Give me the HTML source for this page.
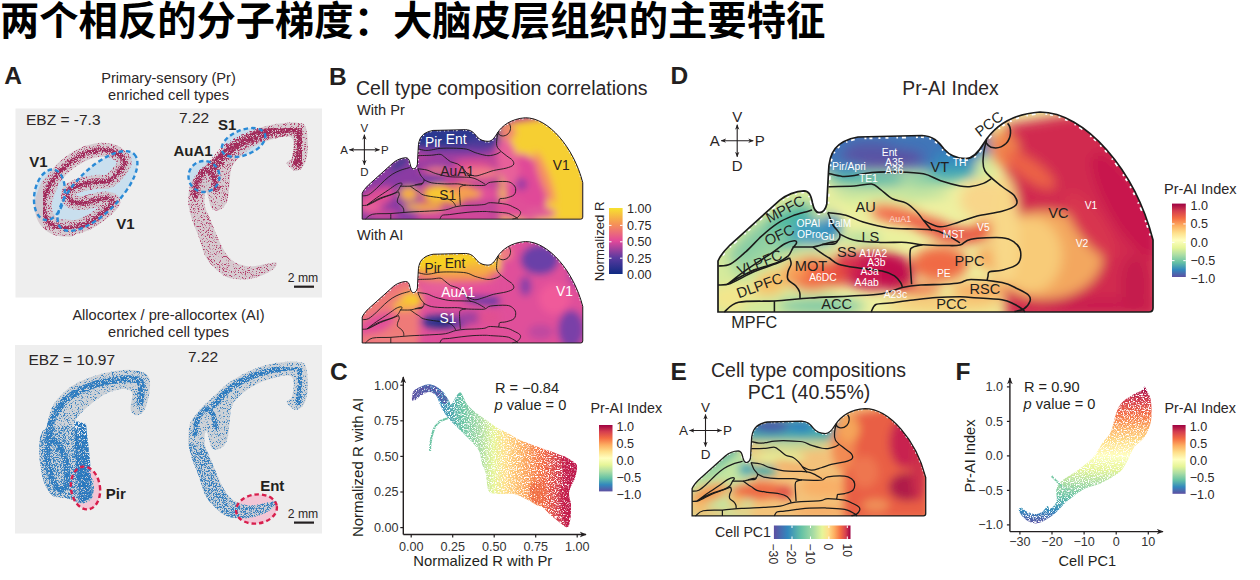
<!DOCTYPE html><html><head><meta charset="utf-8"><style>html,body{margin:0;padding:0;background:#fff;width:1260px;height:580px;overflow:hidden}svg{display:block}text{font-family:"Liberation Sans",Arial,sans-serif}</style></head><body>
<svg width="1260" height="580" viewBox="0 0 1260 580">
<defs>
<clipPath id="clip0"><path d="M718,312 L718,261 C720,256 724,251 730,245 L779.8,200.2 C786,195 796,191 804,190.8 C809,191 811,195 812.5,203 C814,210 816,212.6 819,212.6 C822.5,212.6 825.5,210 826.8,204 L828.5,172 C829,152 836,141 858,137 L922,135.5 C933,136 938,141 944,149 C950,156 958,158.5 966,158.5 C973,158.5 978,153 984,143 C994,127 1012,114 1040,112 C1085,112 1135,170 1153,240 L1153,308 Q1153,312 1149,312 Z"/></clipPath>
<clipPath id="clip1"><path d="M718,312 L718,261 C720,256 724,251 730,245 L779.8,200.2 C786,195 796,191 804,190.8 C809,191 811,195 812.5,203 C814,210 816,212.6 819,212.6 C822.5,212.6 825.5,210 826.8,204 L828.5,172 C829,152 836,141 858,137 L922,135.5 C933,136 938,141 944,149 C950,156 958,158.5 966,158.5 C973,158.5 978,153 984,143 C994,127 1012,114 1040,112 C1085,112 1135,170 1153,240 L1153,308 Q1153,312 1149,312 Z"/></clipPath>
<clipPath id="clip2"><path d="M718,312 L718,261 C720,256 724,251 730,245 L779.8,200.2 C786,195 796,191 804,190.8 C809,191 811,195 812.5,203 C814,210 816,212.6 819,212.6 C822.5,212.6 825.5,210 826.8,204 L828.5,172 C829,152 836,141 858,137 L922,135.5 C933,136 938,141 944,149 C950,156 958,158.5 966,158.5 C973,158.5 978,153 984,143 C994,127 1012,114 1040,112 C1085,112 1135,170 1153,240 L1153,308 Q1153,312 1149,312 Z"/></clipPath>
<clipPath id="clip3"><path d="M718,312 L718,261 C720,256 724,251 730,245 L779.8,200.2 C786,195 796,191 804,190.8 C809,191 811,195 812.5,203 C814,210 816,212.6 819,212.6 C822.5,212.6 825.5,210 826.8,204 L828.5,172 C829,152 836,141 858,137 L922,135.5 C933,136 938,141 944,149 C950,156 958,158.5 966,158.5 C973,158.5 978,153 984,143 C994,127 1012,114 1040,112 C1085,112 1135,170 1153,240 L1153,308 Q1153,312 1149,312 Z"/></clipPath>
<clipPath id="clipO"><path d="M718,312 L718,261 C720,256 724,251 730,245 L779.8,200.2 C786,195 796,191 804,190.8 C809,191 811,195 812.5,203 C814,210 816,212.6 819,212.6 C822.5,212.6 825.5,210 826.8,204 L828.5,172 C829,152 836,141 858,137 L922,135.5 C933,136 938,141 944,149 C950,156 958,158.5 966,158.5 C973,158.5 978,153 984,143 C994,127 1012,114 1040,112 C1085,112 1135,170 1153,240 L1153,308 Q1153,312 1149,312 Z"/></clipPath>
<clipPath id="topclip"><path d="M722,100 L1151,100 L1151,238 L1000,238 L1000,180 L830,180 L830,250 L722,290 Z"/></clipPath>
<filter id="blur0" x="-20%" y="-20%" width="140%" height="140%"><feGaussianBlur stdDeviation="6"/></filter>
<filter id="blur1" x="-20%" y="-20%" width="140%" height="140%"><feGaussianBlur stdDeviation="7"/></filter>
<filter id="blur2" x="-20%" y="-20%" width="140%" height="140%"><feGaussianBlur stdDeviation="7"/></filter>
<filter id="blur3" x="-20%" y="-20%" width="140%" height="140%"><feGaussianBlur stdDeviation="8"/></filter>
<linearGradient id="specV" x1="0" y1="0" x2="0" y2="1"><stop offset="0.000" stop-color="#9e0142"/><stop offset="0.100" stop-color="#d53e4f"/><stop offset="0.200" stop-color="#f46d43"/><stop offset="0.300" stop-color="#fdae61"/><stop offset="0.400" stop-color="#fee08b"/><stop offset="0.500" stop-color="#ffffbf"/><stop offset="0.600" stop-color="#e6f598"/><stop offset="0.700" stop-color="#abdda4"/><stop offset="0.800" stop-color="#66c2a5"/><stop offset="0.900" stop-color="#3288bd"/><stop offset="1.000" stop-color="#5e4fa2"/></linearGradient>
<linearGradient id="specH" x1="0" y1="0" x2="1" y2="0"><stop offset="0" stop-color="#5e4fa2"/><stop offset="0.18" stop-color="#3288bd"/><stop offset="0.36" stop-color="#66c2a5"/><stop offset="0.52" stop-color="#abdda4"/><stop offset="0.63" stop-color="#e6f598"/><stop offset="0.71" stop-color="#fee08b"/><stop offset="0.79" stop-color="#fdae61"/><stop offset="0.87" stop-color="#f46d43"/><stop offset="0.94" stop-color="#d53e4f"/><stop offset="1" stop-color="#9e0142"/></linearGradient>
<linearGradient id="plasma" x1="0" y1="1" x2="0" y2="0"><stop offset="0" stop-color="#0f2a82"/><stop offset="0.25" stop-color="#5b3aa0"/><stop offset="0.5" stop-color="#e2489a"/><stop offset="0.75" stop-color="#f59058"/><stop offset="1" stop-color="#f7e22e"/></linearGradient>
<marker id="arr" viewBox="0 0 10 10" refX="9" refY="5" markerWidth="5" markerHeight="5" orient="auto-start-reverse"><path d="M0,1 L10,5 L0,9 L3,5 Z" fill="#231f20"/></marker>
<linearGradient id="cgrad" gradientUnits="userSpaceOnUse" x1="412" y1="0" x2="575" y2="0"><stop offset="0" stop-color="#5e4fa2"/><stop offset="0.17" stop-color="#3288bd"/><stop offset="0.3" stop-color="#66c2a5"/><stop offset="0.42" stop-color="#abdda4"/><stop offset="0.5" stop-color="#e6f598"/><stop offset="0.57" stop-color="#fee08b"/><stop offset="0.68" stop-color="#fdae61"/><stop offset="0.8" stop-color="#f46d43"/><stop offset="0.9" stop-color="#d53e4f"/><stop offset="1" stop-color="#b0104a"/></linearGradient>
<linearGradient id="fgrad" gradientUnits="userSpaceOnUse" x1="0" y1="386.9" x2="0" y2="524.5"><stop offset="0" stop-color="#9e0142"/><stop offset="0.1" stop-color="#d53e4f"/><stop offset="0.2" stop-color="#f46d43"/><stop offset="0.3" stop-color="#fdae61"/><stop offset="0.4" stop-color="#fee08b"/><stop offset="0.5" stop-color="#ffffbf"/><stop offset="0.6" stop-color="#e6f598"/><stop offset="0.7" stop-color="#abdda4"/><stop offset="0.8" stop-color="#66c2a5"/><stop offset="0.9" stop-color="#3288bd"/><stop offset="1" stop-color="#5e4fa2"/></linearGradient>
<filter id="mesh2" x="-5%" y="-5%" width="110%" height="110%"><feTurbulence type="fractalNoise" baseFrequency="0.85" numOctaves="2" seed="21" result="n"/><feColorMatrix in="n" type="matrix" values="0 0 0 0 0  0 0 0 0 0  0 0 0 0 0  0 0 0 5 -1.9" result="m"/><feComposite in="SourceGraphic" in2="m" operator="in"/></filter>
<filter id="mesh" x="-5%" y="-5%" width="110%" height="110%"><feTurbulence type="fractalNoise" baseFrequency="0.85" numOctaves="2" seed="3" result="n"/><feColorMatrix in="n" type="matrix" values="0 0 0 0 0  0 0 0 0 0  0 0 0 0 0  0 0 0 5 -1.6" result="m"/><feComposite in="SourceGraphic" in2="m" operator="in"/></filter>
<filter id="spkL" x="0" y="0" width="100%" height="100%"><feTurbulence type="fractalNoise" baseFrequency="1.27" numOctaves="2" seed="7" result="n"/><feColorMatrix in="n" type="matrix" values="0 0 0 0 0  0 0 0 0 0  0 0 0 0 0  0 0 0 8 -4.5" result="m"/><feComposite in="SourceGraphic" in2="m" operator="in"/></filter>
<filter id="spkM" x="0" y="0" width="100%" height="100%"><feTurbulence type="fractalNoise" baseFrequency="1.27" numOctaves="2" seed="9" result="n"/><feColorMatrix in="n" type="matrix" values="0 0 0 0 0  0 0 0 0 0  0 0 0 0 0  0 0 0 8 -3.9" result="m"/><feComposite in="SourceGraphic" in2="m" operator="in"/></filter>
<filter id="spkH" x="0" y="0" width="100%" height="100%"><feTurbulence type="fractalNoise" baseFrequency="1.27" numOctaves="2" seed="13" result="n"/><feColorMatrix in="n" type="matrix" values="0 0 0 0 0  0 0 0 0 0  0 0 0 0 0  0 0 0 8 -3.0" result="m"/><feComposite in="SourceGraphic" in2="m" operator="in"/></filter>
<clipPath id="lowA"><path d="M0,432 L150,420 L150,580 L0,580 Z M170,440 L330,470 L330,580 L170,580 Z"/></clipPath>
</defs>
<text x="0" y="34.7" font-size="39.3" font-weight="bold" fill="#000" style="font-family:'Liberation Sans','Noto Sans CJK SC',sans-serif">两个相反的分子梯度：大脑皮层组织的主要特征</text>
<text x="4.3" y="84" font-size="24.5" font-weight="bold" fill="#231f20">A</text>
<text x="329" y="84.5" font-size="24.5" font-weight="bold" fill="#231f20">B</text>
<text x="330" y="379.5" font-size="24.5" font-weight="bold" fill="#231f20">C</text>
<text x="670.5" y="84.3" font-size="24.5" font-weight="bold" fill="#231f20">D</text>
<text x="670.5" y="379.5" font-size="24.5" font-weight="bold" fill="#231f20">E</text>
<text x="955.5" y="379.5" font-size="24.5" font-weight="bold" fill="#231f20">F</text>
<text x="168.5" y="83" font-size="14.6" text-anchor="middle" fill="#2b2626">Primary-sensory (Pr)</text>
<text x="168.5" y="100.3" font-size="14.6" text-anchor="middle" fill="#2b2626">enriched cell types</text>
<text x="168.5" y="319.6" font-size="14.6" text-anchor="middle" fill="#2b2626">Allocortex / pre-allocortex (AI)</text>
<text x="168.5" y="337" font-size="14.6" text-anchor="middle" fill="#2b2626">enriched cell types</text>
<rect x="15.5" y="108.5" width="306.5" height="189" fill="#eeeeee"/>
<rect x="15" y="345" width="307" height="188.5" fill="#eeeeee"/>
<text x="26" y="124.8" font-size="15.5" fill="#2b2626">EBZ = -7.3</text>
<text x="179" y="122.7" font-size="15.5" fill="#2b2626">7.22</text>
<text x="28.5" y="364.7" font-size="15.5" fill="#2b2626">EBZ = 10.97</text>
<text x="188" y="362" font-size="15.5" fill="#2b2626">7.22</text>
<g fill="#c9dfee"><ellipse cx="49.4" cy="194.8" rx="15" ry="25.5" transform="rotate(10 49.4 194.8)"/><ellipse cx="97.5" cy="191" rx="52" ry="22" transform="rotate(-45 97.5 191)"/><ellipse cx="243.5" cy="142.5" rx="23" ry="12.5" transform="rotate(-22 243.5 142.5)"/><ellipse cx="204" cy="176.5" rx="15.5" ry="15.5"/></g><g opacity="0.85"><path d="M113.2,202.1 C112.3,204.7 105.6,210.6 101.4,214.0 C97.1,217.5 92.2,220.6 87.5,222.9 C82.8,225.2 77.7,226.9 73.2,227.7 C68.7,228.5 64.1,228.6 60.3,227.8 C56.5,227.1 53.0,225.5 50.3,223.3 C47.7,221.1 45.6,218.0 44.5,214.6 C43.3,211.2 43.0,207.0 43.5,202.8 C43.9,198.6 45.3,193.8 47.4,189.4 C49.4,184.9 52.4,180.1 55.8,175.9 C59.2,171.6 63.4,167.4 67.6,164.0 C71.9,160.5 76.8,157.4 81.5,155.1 C86.2,152.8 91.3,151.1 95.8,150.3 C100.3,149.5 104.9,149.4 108.7,150.2 C112.5,150.9 116.0,152.5 118.7,154.7 C121.3,156.9 126.0,159.1 124.5,163.4 C123.1,167.7 114.8,177.4 110.0,180.5 C105.2,183.6 101.3,181.2 96.0,182.0 C90.7,182.8 82.9,183.8 78.3,185.5 C73.7,187.2 69.9,189.5 68.5,192.0 C67.1,194.5 67.8,198.7 70.0,200.5 C72.2,202.3 76.9,203.2 81.7,203.0 C86.5,202.8 94.8,200.2 99.0,199.5 C103.2,198.8 104.6,198.1 107.0,198.5 C109.4,198.9 114.2,199.5 113.2,202.1Z" fill="none" stroke="#d2c6cb" stroke-width="14" stroke-linecap="round" stroke-linejoin="round"/><path d="M69.8,228.2 C67.7,228.0 61.1,228.2 57.5,227.1 C53.9,226.0 50.7,224.0 48.5,221.5 C46.2,218.9 44.5,215.5 43.8,211.9 C43.0,208.2 43.1,203.9 44.0,199.5 C44.9,195.2 48.2,188.2 49.1,185.9" fill="none" stroke="#d2c6cb" stroke-width="17" stroke-linecap="round" stroke-linejoin="round"/><path d="M210.9,159.8 C213.8,157.0 213.2,157.6 216.0,155.0 C218.8,152.4 223.1,147.8 228.0,144.3 C232.9,140.8 239.5,136.9 245.3,134.0 C251.1,131.1 256.9,128.8 262.6,127.1 C268.4,125.4 274.1,124.3 279.8,123.6 C285.6,122.9 292.8,122.2 297.1,122.8 C301.4,123.4 303.9,122.6 305.7,127.1 C307.5,131.5 308.1,143.2 307.8,149.5 C307.5,155.8 306.1,161.4 304.0,165.0 C301.9,168.6 298.2,171.3 295.3,171.0 C292.4,170.7 287.3,165.5 286.7,163.3 C286.1,161.2 290.8,161.6 291.9,158.1 C293.0,154.6 294.2,146.2 293.6,142.6 C293.0,139.0 292.1,137.0 288.4,136.5 C284.7,136.0 276.9,137.8 271.2,139.5 C265.5,141.2 259.2,143.7 254.0,146.5 C248.8,149.3 243.9,152.8 240.2,156.4 C236.4,160.0 233.3,163.2 231.5,168.0 C229.7,172.8 230.3,179.3 229.5,185.0 C228.7,190.7 228.4,198.2 226.6,202.4 C224.8,206.6 221.3,209.3 218.8,210.2 C216.3,211.1 213.3,210.4 211.5,208.0 C209.7,205.6 209.0,198.7 208.0,196.0 C207.0,193.3 206.0,190.4 205.5,192.0 C205.0,193.6 203.9,200.7 204.8,205.5 C205.7,210.3 208.9,215.8 211.0,221.0 C213.1,226.2 215.0,231.4 217.3,236.6 C219.6,241.8 222.2,247.9 225.0,252.1 C227.8,256.3 230.2,259.6 234.3,262.0 C238.5,264.4 244.7,266.2 249.9,266.5 C255.1,266.8 261.0,264.7 265.4,264.0 C269.8,263.3 275.0,261.6 276.3,262.5 C277.6,263.4 276.3,266.8 273.2,269.2 C270.1,271.6 262.8,275.3 257.6,277.0 C252.4,278.7 247.3,279.3 242.1,279.3 C236.9,279.3 231.2,278.9 226.6,277.0 C221.9,275.1 217.8,271.2 214.2,267.6 C210.6,264.0 207.4,260.4 204.8,255.2 C202.2,250.0 200.7,242.3 198.6,236.6 C196.5,230.9 194.1,226.2 192.4,221.0 C190.7,215.8 189.2,209.4 188.5,205.5 C187.8,201.6 188.1,201.4 188.4,197.8 C188.7,194.2 188.5,188.3 190.2,184.0 C191.9,179.7 195.4,175.9 198.8,171.9 C202.2,167.9 208.0,162.6 210.9,159.8Z" fill="#d2c6cb"/></g><g filter="url(#spkL)"><path d="M210.9,159.8 C213.8,157.0 213.2,157.6 216.0,155.0 C218.8,152.4 223.1,147.8 228.0,144.3 C232.9,140.8 239.5,136.9 245.3,134.0 C251.1,131.1 256.9,128.8 262.6,127.1 C268.4,125.4 274.1,124.3 279.8,123.6 C285.6,122.9 292.8,122.2 297.1,122.8 C301.4,123.4 303.9,122.6 305.7,127.1 C307.5,131.5 308.1,143.2 307.8,149.5 C307.5,155.8 306.1,161.4 304.0,165.0 C301.9,168.6 298.2,171.3 295.3,171.0 C292.4,170.7 287.3,165.5 286.7,163.3 C286.1,161.2 290.8,161.6 291.9,158.1 C293.0,154.6 294.2,146.2 293.6,142.6 C293.0,139.0 292.1,137.0 288.4,136.5 C284.7,136.0 276.9,137.8 271.2,139.5 C265.5,141.2 259.2,143.7 254.0,146.5 C248.8,149.3 243.9,152.8 240.2,156.4 C236.4,160.0 233.3,163.2 231.5,168.0 C229.7,172.8 230.3,179.3 229.5,185.0 C228.7,190.7 228.4,198.2 226.6,202.4 C224.8,206.6 221.3,209.3 218.8,210.2 C216.3,211.1 213.3,210.4 211.5,208.0 C209.7,205.6 209.0,198.7 208.0,196.0 C207.0,193.3 206.0,190.4 205.5,192.0 C205.0,193.6 203.9,200.7 204.8,205.5 C205.7,210.3 208.9,215.8 211.0,221.0 C213.1,226.2 215.0,231.4 217.3,236.6 C219.6,241.8 222.2,247.9 225.0,252.1 C227.8,256.3 230.2,259.6 234.3,262.0 C238.5,264.4 244.7,266.2 249.9,266.5 C255.1,266.8 261.0,264.7 265.4,264.0 C269.8,263.3 275.0,261.6 276.3,262.5 C277.6,263.4 276.3,266.8 273.2,269.2 C270.1,271.6 262.8,275.3 257.6,277.0 C252.4,278.7 247.3,279.3 242.1,279.3 C236.9,279.3 231.2,278.9 226.6,277.0 C221.9,275.1 217.8,271.2 214.2,267.6 C210.6,264.0 207.4,260.4 204.8,255.2 C202.2,250.0 200.7,242.3 198.6,236.6 C196.5,230.9 194.1,226.2 192.4,221.0 C190.7,215.8 189.2,209.4 188.5,205.5 C187.8,201.6 188.1,201.4 188.4,197.8 C188.7,194.2 188.5,188.3 190.2,184.0 C191.9,179.7 195.4,175.9 198.8,171.9 C202.2,167.9 208.0,162.6 210.9,159.8Z" fill="#b23a68"/><path d="M113.2,202.1 C112.3,204.7 105.6,210.6 101.4,214.0 C97.1,217.5 92.2,220.6 87.5,222.9 C82.8,225.2 77.7,226.9 73.2,227.7 C68.7,228.5 64.1,228.6 60.3,227.8 C56.5,227.1 53.0,225.5 50.3,223.3 C47.7,221.1 45.6,218.0 44.5,214.6 C43.3,211.2 43.0,207.0 43.5,202.8 C43.9,198.6 45.3,193.8 47.4,189.4 C49.4,184.9 52.4,180.1 55.8,175.9 C59.2,171.6 63.4,167.4 67.6,164.0 C71.9,160.5 76.8,157.4 81.5,155.1 C86.2,152.8 91.3,151.1 95.8,150.3 C100.3,149.5 104.9,149.4 108.7,150.2 C112.5,150.9 116.0,152.5 118.7,154.7 C121.3,156.9 126.0,159.1 124.5,163.4 C123.1,167.7 114.8,177.4 110.0,180.5 C105.2,183.6 101.3,181.2 96.0,182.0 C90.7,182.8 82.9,183.8 78.3,185.5 C73.7,187.2 69.9,189.5 68.5,192.0 C67.1,194.5 67.8,198.7 70.0,200.5 C72.2,202.3 76.9,203.2 81.7,203.0 C86.5,202.8 94.8,200.2 99.0,199.5 C103.2,198.8 104.6,198.1 107.0,198.5 C109.4,198.9 114.2,199.5 113.2,202.1Z" fill="none" stroke="#b23a68" stroke-width="14" stroke-linecap="round" stroke-linejoin="round"/><path d="M69.8,228.2 C67.7,228.0 61.1,228.2 57.5,227.1 C53.9,226.0 50.7,224.0 48.5,221.5 C46.2,218.9 44.5,215.5 43.8,211.9 C43.0,208.2 43.1,203.9 44.0,199.5 C44.9,195.2 48.2,188.2 49.1,185.9" fill="none" stroke="#b23a68" stroke-width="17" stroke-linecap="round" stroke-linejoin="round"/></g><g filter="url(#spkM)"><path d="M113.2,202.1 C112.3,204.7 105.6,210.6 101.4,214.0 C97.1,217.5 92.2,220.6 87.5,222.9 C82.8,225.2 77.7,226.9 73.2,227.7 C68.7,228.5 64.1,228.6 60.3,227.8 C56.5,227.1 53.0,225.5 50.3,223.3 C47.7,221.1 45.6,218.0 44.5,214.6 C43.3,211.2 43.0,207.0 43.5,202.8 C43.9,198.6 45.3,193.8 47.4,189.4 C49.4,184.9 52.4,180.1 55.8,175.9 C59.2,171.6 63.4,167.4 67.6,164.0 C71.9,160.5 76.8,157.4 81.5,155.1 C86.2,152.8 91.3,151.1 95.8,150.3 C100.3,149.5 104.9,149.4 108.7,150.2 C112.5,150.9 116.0,152.5 118.7,154.7 C121.3,156.9 126.0,159.1 124.5,163.4 C123.1,167.7 114.8,177.4 110.0,180.5 C105.2,183.6 101.3,181.2 96.0,182.0 C90.7,182.8 82.9,183.8 78.3,185.5 C73.7,187.2 69.9,189.5 68.5,192.0 C67.1,194.5 67.8,198.7 70.0,200.5 C72.2,202.3 76.9,203.2 81.7,203.0 C86.5,202.8 94.8,200.2 99.0,199.5 C103.2,198.8 104.6,198.1 107.0,198.5 C109.4,198.9 114.2,199.5 113.2,202.1Z" fill="none" stroke="#a52d5e" stroke-width="7" stroke-linecap="round" stroke-linejoin="round"/><path d="M214.0,166.0 C216.3,163.5 222.7,155.3 228.0,151.0 C233.3,146.7 240.0,143.0 246.0,140.0 C252.0,137.0 258.0,134.8 264.0,133.0 C270.0,131.2 276.3,130.1 282.0,129.5 C287.7,128.9 294.8,126.9 298.0,129.5 C301.2,132.1 301.0,139.4 301.0,145.0 C301.0,150.6 298.5,160.0 298.0,163.0" fill="none" stroke="#a8305f" stroke-width="14" stroke-linecap="round" stroke-linejoin="round"/><path d="M195.0,195.0 C195.5,192.5 196.2,184.2 198.0,180.0 C199.8,175.8 203.5,170.7 206.0,170.0 C208.5,169.3 211.3,173.0 213.0,176.0 C214.7,179.0 215.5,186.0 216.0,188.0" fill="none" stroke="#a8305f" stroke-width="9" stroke-linecap="round" stroke-linejoin="round"/></g><g filter="url(#spkH)"><path d="M113.2,202.1 C112.3,204.7 105.6,210.6 101.4,214.0 C97.1,217.5 92.2,220.6 87.5,222.9 C82.8,225.2 77.7,226.9 73.2,227.7 C68.7,228.5 64.1,228.6 60.3,227.8 C56.5,227.1 53.0,225.5 50.3,223.3 C47.7,221.1 45.6,218.0 44.5,214.6 C43.3,211.2 43.0,207.0 43.5,202.8 C43.9,198.6 45.3,193.8 47.4,189.4 C49.4,184.9 52.4,180.1 55.8,175.9 C59.2,171.6 63.4,167.4 67.6,164.0 C71.9,160.5 76.8,157.4 81.5,155.1 C86.2,152.8 91.3,151.1 95.8,150.3 C100.3,149.5 104.9,149.4 108.7,150.2 C112.5,150.9 116.0,152.5 118.7,154.7 C121.3,156.9 126.0,159.1 124.5,163.4 C123.1,167.7 114.8,177.4 110.0,180.5 C105.2,183.6 101.3,181.2 96.0,182.0 C90.7,182.8 82.9,183.8 78.3,185.5 C73.7,187.2 69.9,189.5 68.5,192.0 C67.1,194.5 67.8,198.7 70.0,200.5 C72.2,202.3 76.9,203.2 81.7,203.0 C86.5,202.8 94.8,200.2 99.0,199.5 C103.2,198.8 104.6,198.1 107.0,198.5 C109.4,198.9 114.2,199.5 113.2,202.1Z" fill="none" stroke="#a02a5a" stroke-width="3.5" stroke-linecap="round" stroke-linejoin="round"/><path d="M214.0,166.0 C216.3,163.5 222.7,155.3 228.0,151.0 C233.3,146.7 240.0,143.0 246.0,140.0 C252.0,137.0 258.0,134.8 264.0,133.0 C270.0,131.2 276.3,130.1 282.0,129.5 C287.7,128.9 294.8,126.9 298.0,129.5 C301.2,132.1 301.0,139.4 301.0,145.0 C301.0,150.6 298.5,160.0 298.0,163.0" fill="none" stroke="#a02a5a" stroke-width="8" stroke-linecap="round" stroke-linejoin="round"/><path d="M195.0,195.0 C195.5,192.5 196.2,184.2 198.0,180.0 C199.8,175.8 203.5,170.7 206.0,170.0 C208.5,169.3 211.3,173.0 213.0,176.0 C214.7,179.0 215.5,186.0 216.0,188.0" fill="none" stroke="#a02a5a" stroke-width="5" stroke-linecap="round" stroke-linejoin="round"/></g><g fill="none" stroke="#2a8ad6" stroke-width="2.4" stroke-dasharray="4.5 3"><ellipse cx="49.4" cy="194.8" rx="15" ry="25.5" transform="rotate(10 49.4 194.8)"/><ellipse cx="97.5" cy="191" rx="52" ry="22" transform="rotate(-45 97.5 191)"/><ellipse cx="243.5" cy="142.5" rx="23" ry="12.5" transform="rotate(-22 243.5 142.5)"/><ellipse cx="204" cy="176.5" rx="15.5" ry="15.5"/></g>
<g fill="#f3c6d6"><ellipse cx="85.5" cy="488" rx="14.5" ry="21.5" transform="rotate(-8 85.5 488)"/><ellipse cx="256.5" cy="509" rx="20.5" ry="14.5" transform="rotate(-8 256.5 509)"/></g><g opacity="0.85"><path d="M46.6,426.2 C48.2,422.0 48.9,412.9 52.1,406.9 C55.3,400.9 60.4,395.0 65.9,390.4 C71.4,385.8 78.3,382.3 85.2,379.3 C92.1,376.3 99.9,374.0 107.3,372.4 C114.7,370.8 123.0,369.5 129.4,369.7 C135.8,369.9 142.5,371.3 145.9,373.8 C149.3,376.3 150.1,379.3 150.1,384.8 C150.1,390.3 148.0,401.8 145.9,406.9 C143.8,412.0 140.1,414.7 137.6,415.2 C135.1,415.7 131.6,413.4 130.7,409.7 C129.8,406.0 133.2,396.6 132.1,393.1 C130.9,389.7 127.9,389.0 123.8,389.0 C119.7,389.0 112.8,390.6 107.3,393.1 C101.8,395.6 95.8,400.1 90.7,404.2 C85.6,408.3 79.7,413.9 76.9,418.0 C74.2,422.1 72.8,424.9 74.2,429.0 C75.6,433.1 82.9,437.7 85.2,442.8 C87.5,447.9 87.8,454.8 88.0,459.4 C88.2,464.0 85.6,466.7 86.5,470.4 C87.4,474.1 92.6,476.8 93.5,481.4 C94.4,486.0 93.9,494.3 92.1,498.0 C90.2,501.7 85.9,503.3 82.4,503.5 C79.0,503.7 74.6,500.3 71.4,499.4 C68.2,498.5 66.3,498.7 63.1,498.0 C59.9,497.3 55.3,498.0 52.1,495.2 C48.9,492.4 45.9,487.4 43.8,481.4 C41.7,475.4 40.4,466.3 39.7,459.4 C39.0,452.5 39.2,444.6 39.7,440.0 C40.2,435.4 41.2,434.1 42.4,431.8 C43.5,429.5 45.0,430.4 46.6,426.2Z" fill="#c9ced4"/><path d="M210.9,398.8 C213.8,396.0 213.2,396.6 216.0,394.0 C218.8,391.4 223.1,386.8 228.0,383.3 C232.9,379.8 239.5,375.9 245.3,373.0 C251.1,370.1 256.9,367.8 262.6,366.1 C268.4,364.4 274.1,363.3 279.8,362.6 C285.6,361.9 292.8,361.2 297.1,361.8 C301.4,362.4 303.9,361.7 305.7,366.1 C307.5,370.6 308.1,382.2 307.8,388.5 C307.5,394.8 306.1,400.4 304.0,404.0 C301.9,407.6 298.2,410.3 295.3,410.0 C292.4,409.7 287.3,404.4 286.7,402.3 C286.1,400.2 290.8,400.6 291.9,397.1 C293.0,393.7 294.2,385.2 293.6,381.6 C293.0,378.0 292.1,376.0 288.4,375.5 C284.7,375.0 276.9,376.8 271.2,378.5 C265.5,380.2 259.2,382.7 254.0,385.5 C248.8,388.3 243.9,391.8 240.2,395.4 C236.4,399.0 233.3,402.2 231.5,407.0 C229.7,411.8 230.3,418.3 229.5,424.0 C228.7,429.7 228.4,437.2 226.6,441.4 C224.8,445.6 221.3,448.3 218.8,449.2 C216.3,450.1 213.3,449.4 211.5,447.0 C209.7,444.6 209.0,437.7 208.0,435.0 C207.0,432.3 206.0,429.4 205.5,431.0 C205.0,432.6 203.9,439.7 204.8,444.5 C205.7,449.3 208.9,454.8 211.0,460.0 C213.1,465.2 215.0,470.4 217.3,475.6 C219.6,480.8 222.2,486.9 225.0,491.1 C227.8,495.3 230.2,498.6 234.3,501.0 C238.5,503.4 244.7,505.2 249.9,505.5 C255.1,505.8 261.0,503.7 265.4,503.0 C269.8,502.3 275.0,500.6 276.3,501.5 C277.6,502.4 276.3,505.8 273.2,508.2 C270.1,510.6 262.8,514.3 257.6,516.0 C252.4,517.7 247.3,518.3 242.1,518.3 C236.9,518.3 231.2,518.0 226.6,516.0 C221.9,514.0 217.8,510.2 214.2,506.6 C210.6,503.0 207.4,499.4 204.8,494.2 C202.2,489.0 200.7,481.3 198.6,475.6 C196.5,469.9 194.1,465.2 192.4,460.0 C190.7,454.8 189.2,448.4 188.5,444.5 C187.8,440.6 188.1,440.4 188.4,436.8 C188.7,433.2 188.5,427.3 190.2,423.0 C191.9,418.7 195.4,414.9 198.8,410.9 C202.2,406.9 208.0,401.6 210.9,398.8Z" fill="#c9ced4"/></g><g filter="url(#spkL)"><path d="M46.6,426.2 C48.2,422.0 48.9,412.9 52.1,406.9 C55.3,400.9 60.4,395.0 65.9,390.4 C71.4,385.8 78.3,382.3 85.2,379.3 C92.1,376.3 99.9,374.0 107.3,372.4 C114.7,370.8 123.0,369.5 129.4,369.7 C135.8,369.9 142.5,371.3 145.9,373.8 C149.3,376.3 150.1,379.3 150.1,384.8 C150.1,390.3 148.0,401.8 145.9,406.9 C143.8,412.0 140.1,414.7 137.6,415.2 C135.1,415.7 131.6,413.4 130.7,409.7 C129.8,406.0 133.2,396.6 132.1,393.1 C130.9,389.7 127.9,389.0 123.8,389.0 C119.7,389.0 112.8,390.6 107.3,393.1 C101.8,395.6 95.8,400.1 90.7,404.2 C85.6,408.3 79.7,413.9 76.9,418.0 C74.2,422.1 72.8,424.9 74.2,429.0 C75.6,433.1 82.9,437.7 85.2,442.8 C87.5,447.9 87.8,454.8 88.0,459.4 C88.2,464.0 85.6,466.7 86.5,470.4 C87.4,474.1 92.6,476.8 93.5,481.4 C94.4,486.0 93.9,494.3 92.1,498.0 C90.2,501.7 85.9,503.3 82.4,503.5 C79.0,503.7 74.6,500.3 71.4,499.4 C68.2,498.5 66.3,498.7 63.1,498.0 C59.9,497.3 55.3,498.0 52.1,495.2 C48.9,492.4 45.9,487.4 43.8,481.4 C41.7,475.4 40.4,466.3 39.7,459.4 C39.0,452.5 39.2,444.6 39.7,440.0 C40.2,435.4 41.2,434.1 42.4,431.8 C43.5,429.5 45.0,430.4 46.6,426.2Z" fill="#3a82c0"/><path d="M210.9,398.8 C213.8,396.0 213.2,396.6 216.0,394.0 C218.8,391.4 223.1,386.8 228.0,383.3 C232.9,379.8 239.5,375.9 245.3,373.0 C251.1,370.1 256.9,367.8 262.6,366.1 C268.4,364.4 274.1,363.3 279.8,362.6 C285.6,361.9 292.8,361.2 297.1,361.8 C301.4,362.4 303.9,361.7 305.7,366.1 C307.5,370.6 308.1,382.2 307.8,388.5 C307.5,394.8 306.1,400.4 304.0,404.0 C301.9,407.6 298.2,410.3 295.3,410.0 C292.4,409.7 287.3,404.4 286.7,402.3 C286.1,400.2 290.8,400.6 291.9,397.1 C293.0,393.7 294.2,385.2 293.6,381.6 C293.0,378.0 292.1,376.0 288.4,375.5 C284.7,375.0 276.9,376.8 271.2,378.5 C265.5,380.2 259.2,382.7 254.0,385.5 C248.8,388.3 243.9,391.8 240.2,395.4 C236.4,399.0 233.3,402.2 231.5,407.0 C229.7,411.8 230.3,418.3 229.5,424.0 C228.7,429.7 228.4,437.2 226.6,441.4 C224.8,445.6 221.3,448.3 218.8,449.2 C216.3,450.1 213.3,449.4 211.5,447.0 C209.7,444.6 209.0,437.7 208.0,435.0 C207.0,432.3 206.0,429.4 205.5,431.0 C205.0,432.6 203.9,439.7 204.8,444.5 C205.7,449.3 208.9,454.8 211.0,460.0 C213.1,465.2 215.0,470.4 217.3,475.6 C219.6,480.8 222.2,486.9 225.0,491.1 C227.8,495.3 230.2,498.6 234.3,501.0 C238.5,503.4 244.7,505.2 249.9,505.5 C255.1,505.8 261.0,503.7 265.4,503.0 C269.8,502.3 275.0,500.6 276.3,501.5 C277.6,502.4 276.3,505.8 273.2,508.2 C270.1,510.6 262.8,514.3 257.6,516.0 C252.4,517.7 247.3,518.3 242.1,518.3 C236.9,518.3 231.2,518.0 226.6,516.0 C221.9,514.0 217.8,510.2 214.2,506.6 C210.6,503.0 207.4,499.4 204.8,494.2 C202.2,489.0 200.7,481.3 198.6,475.6 C196.5,469.9 194.1,465.2 192.4,460.0 C190.7,454.8 189.2,448.4 188.5,444.5 C187.8,440.6 188.1,440.4 188.4,436.8 C188.7,433.2 188.5,427.3 190.2,423.0 C191.9,418.7 195.4,414.9 198.8,410.9 C202.2,406.9 208.0,401.6 210.9,398.8Z" fill="#3a82c0"/></g><g clip-path="url(#lowA)"><g filter="url(#spkM)"><path d="M46.6,426.2 C48.2,422.0 48.9,412.9 52.1,406.9 C55.3,400.9 60.4,395.0 65.9,390.4 C71.4,385.8 78.3,382.3 85.2,379.3 C92.1,376.3 99.9,374.0 107.3,372.4 C114.7,370.8 123.0,369.5 129.4,369.7 C135.8,369.9 142.5,371.3 145.9,373.8 C149.3,376.3 150.1,379.3 150.1,384.8 C150.1,390.3 148.0,401.8 145.9,406.9 C143.8,412.0 140.1,414.7 137.6,415.2 C135.1,415.7 131.6,413.4 130.7,409.7 C129.8,406.0 133.2,396.6 132.1,393.1 C130.9,389.7 127.9,389.0 123.8,389.0 C119.7,389.0 112.8,390.6 107.3,393.1 C101.8,395.6 95.8,400.1 90.7,404.2 C85.6,408.3 79.7,413.9 76.9,418.0 C74.2,422.1 72.8,424.9 74.2,429.0 C75.6,433.1 82.9,437.7 85.2,442.8 C87.5,447.9 87.8,454.8 88.0,459.4 C88.2,464.0 85.6,466.7 86.5,470.4 C87.4,474.1 92.6,476.8 93.5,481.4 C94.4,486.0 93.9,494.3 92.1,498.0 C90.2,501.7 85.9,503.3 82.4,503.5 C79.0,503.7 74.6,500.3 71.4,499.4 C68.2,498.5 66.3,498.7 63.1,498.0 C59.9,497.3 55.3,498.0 52.1,495.2 C48.9,492.4 45.9,487.4 43.8,481.4 C41.7,475.4 40.4,466.3 39.7,459.4 C39.0,452.5 39.2,444.6 39.7,440.0 C40.2,435.4 41.2,434.1 42.4,431.8 C43.5,429.5 45.0,430.4 46.6,426.2Z" fill="#3580c0"/><path d="M210.9,398.8 C213.8,396.0 213.2,396.6 216.0,394.0 C218.8,391.4 223.1,386.8 228.0,383.3 C232.9,379.8 239.5,375.9 245.3,373.0 C251.1,370.1 256.9,367.8 262.6,366.1 C268.4,364.4 274.1,363.3 279.8,362.6 C285.6,361.9 292.8,361.2 297.1,361.8 C301.4,362.4 303.9,361.7 305.7,366.1 C307.5,370.6 308.1,382.2 307.8,388.5 C307.5,394.8 306.1,400.4 304.0,404.0 C301.9,407.6 298.2,410.3 295.3,410.0 C292.4,409.7 287.3,404.4 286.7,402.3 C286.1,400.2 290.8,400.6 291.9,397.1 C293.0,393.7 294.2,385.2 293.6,381.6 C293.0,378.0 292.1,376.0 288.4,375.5 C284.7,375.0 276.9,376.8 271.2,378.5 C265.5,380.2 259.2,382.7 254.0,385.5 C248.8,388.3 243.9,391.8 240.2,395.4 C236.4,399.0 233.3,402.2 231.5,407.0 C229.7,411.8 230.3,418.3 229.5,424.0 C228.7,429.7 228.4,437.2 226.6,441.4 C224.8,445.6 221.3,448.3 218.8,449.2 C216.3,450.1 213.3,449.4 211.5,447.0 C209.7,444.6 209.0,437.7 208.0,435.0 C207.0,432.3 206.0,429.4 205.5,431.0 C205.0,432.6 203.9,439.7 204.8,444.5 C205.7,449.3 208.9,454.8 211.0,460.0 C213.1,465.2 215.0,470.4 217.3,475.6 C219.6,480.8 222.2,486.9 225.0,491.1 C227.8,495.3 230.2,498.6 234.3,501.0 C238.5,503.4 244.7,505.2 249.9,505.5 C255.1,505.8 261.0,503.7 265.4,503.0 C269.8,502.3 275.0,500.6 276.3,501.5 C277.6,502.4 276.3,505.8 273.2,508.2 C270.1,510.6 262.8,514.3 257.6,516.0 C252.4,517.7 247.3,518.3 242.1,518.3 C236.9,518.3 231.2,518.0 226.6,516.0 C221.9,514.0 217.8,510.2 214.2,506.6 C210.6,503.0 207.4,499.4 204.8,494.2 C202.2,489.0 200.7,481.3 198.6,475.6 C196.5,469.9 194.1,465.2 192.4,460.0 C190.7,454.8 189.2,448.4 188.5,444.5 C187.8,440.6 188.1,440.4 188.4,436.8 C188.7,433.2 188.5,427.3 190.2,423.0 C191.9,418.7 195.4,414.9 198.8,410.9 C202.2,406.9 208.0,401.6 210.9,398.8Z" fill="#3580c0"/></g></g><g filter="url(#spkH)"><path d="M48.0,440.0 C48.8,436.3 49.7,425.0 53.0,418.0 C56.3,411.0 61.8,403.3 68.0,398.0 C74.2,392.7 82.7,388.9 90.0,386.0 C97.3,383.1 105.0,381.7 112.0,380.5 C119.0,379.3 127.2,378.4 132.0,379.0 C136.8,379.6 139.7,380.2 141.0,384.0 C142.3,387.8 140.2,399.0 140.0,402.0" fill="none" stroke="#2f7cc0" stroke-width="7" stroke-linecap="round" stroke-linejoin="round"/><path d="M214.0,405.0 C216.3,402.5 222.7,394.3 228.0,390.0 C233.3,385.7 240.0,382.0 246.0,379.0 C252.0,376.0 258.0,373.8 264.0,372.0 C270.0,370.2 276.3,369.1 282.0,368.5 C287.7,367.9 294.8,365.9 298.0,368.5 C301.2,371.1 301.0,378.4 301.0,384.0 C301.0,389.6 298.5,399.0 298.0,402.0" fill="none" stroke="#2f7cc0" stroke-width="6" stroke-linecap="round" stroke-linejoin="round"/><path d="M195.0,434.0 C195.5,431.5 196.2,423.2 198.0,419.0 C199.8,414.8 203.5,409.7 206.0,409.0 C208.5,408.3 211.3,412.0 213.0,415.0 C214.7,418.0 215.5,425.0 216.0,427.0" fill="none" stroke="#2f7cc0" stroke-width="5" stroke-linecap="round" stroke-linejoin="round"/><path d="M74,420 L86,424 L90,460 L92,498 L80,503 L76,470 Z" fill="#2a78be"/><ellipse cx="57" cy="465" rx="9" ry="25" transform="rotate(-12 57 465)" fill="none" stroke="#2f7cc0" stroke-width="6"/></g><g fill="none" stroke="#d81e4c" stroke-width="2.4" stroke-dasharray="4.5 3"><ellipse cx="85.5" cy="488" rx="14.5" ry="21.5" transform="rotate(-8 85.5 488)"/><ellipse cx="256.5" cy="509" rx="20.5" ry="14.5" transform="rotate(-8 256.5 509)"/></g>
<text x="38.5" y="167" font-size="15" text-anchor="middle" font-weight="bold" fill="#231f20">V1</text>
<text x="125.5" y="229.3" font-size="15" text-anchor="middle" font-weight="bold" fill="#231f20">V1</text>
<text x="227.3" y="130.3" font-size="15" text-anchor="middle" font-weight="bold" fill="#231f20">S1</text>
<text x="193" y="155.5" font-size="15" text-anchor="middle" font-weight="bold" fill="#231f20">AuA1</text>
<text x="115.8" y="499" font-size="15" text-anchor="middle" font-weight="bold" fill="#231f20">Pir</text>
<text x="272.3" y="490.8" font-size="15" text-anchor="middle" font-weight="bold" fill="#231f20">Ent</text>
<text x="303" y="281.6" font-size="12.2" text-anchor="middle" fill="#2b2626">2 mm</text>
<rect x="294" y="285.6" width="20" height="2.2" fill="#231f20"/>
<text x="303" y="518" font-size="12.2" text-anchor="middle" fill="#2b2626">2 mm</text>
<rect x="294" y="521.5" width="20" height="2.2" fill="#231f20"/>
<text x="356" y="95.3" font-size="19.5" fill="#2b2626">Cell type composition correlations</text>
<text x="357" y="114.7" font-size="14.6" fill="#2b2626">With Pr</text>
<text x="357" y="239.5" font-size="14.6" fill="#2b2626">With AI</text>
<g transform="translate(-1.91,60.96) scale(0.5071)"><g clip-path="url(#clip1)"><rect x="700" y="100" width="470" height="220" fill="#c0449a"/><g filter="url(#blur1)"><path d="M700,320 L700,240 L805,185 L830,200 L830,320 Z" fill="#8a3aa3"/><ellipse cx="792" cy="202" rx="24" ry="8" fill="#2d3a90" transform="rotate(-35 792 202)"/><ellipse cx="745" cy="272" rx="40" ry="18" fill="#df4f95" transform="rotate(-25 745 272)"/><ellipse cx="735" cy="290" rx="20" ry="12" fill="#e8609a"/><ellipse cx="800" cy="300" rx="30" ry="9" fill="#8a3aa5"/><ellipse cx="760" cy="302" rx="30" ry="8" fill="#d04a98"/><path d="M820,128 L990,128 L990,172 L820,172 Z" fill="#2b3890"/><ellipse cx="955" cy="162" rx="35" ry="12" fill="#4a3a9a"/><ellipse cx="900" cy="180" rx="80" ry="7" fill="#7a3aa5"/><ellipse cx="870" cy="203" rx="45" ry="9" fill="#8c3aa6"/><ellipse cx="866" cy="215" rx="22" ry="6" fill="#f07a7a"/><ellipse cx="935" cy="210" rx="40" ry="12" fill="#e05090"/><ellipse cx="855" cy="232" rx="30" ry="8" fill="#6a3aa5"/><ellipse cx="870" cy="262" rx="32" ry="18" fill="#f8c830"/><ellipse cx="900" cy="270" rx="18" ry="14" fill="#f8c030"/><ellipse cx="915" cy="255" rx="22" ry="14" fill="#f59060"/><ellipse cx="960" cy="262" rx="30" ry="15" fill="#e0509a"/><ellipse cx="900" cy="305" rx="80" ry="8" fill="#d84a9a"/><path d="M990,125 L1160,100 L1160,320 L990,320 Z" fill="#f6cf32"/><ellipse cx="1040" cy="250" rx="42" ry="68" fill="#e04898" transform="rotate(-12 1040 250)"/><ellipse cx="1005" cy="200" rx="20" ry="50" fill="#e8609a" transform="rotate(-10 1005 200)"/><ellipse cx="1032" cy="243" rx="12" ry="12" fill="#9a3aa5"/><ellipse cx="1060" cy="300" rx="40" ry="12" fill="#e05a98"/><ellipse cx="1005" cy="140" rx="16" ry="14" fill="#f08070"/><ellipse cx="1078" cy="230" rx="10" ry="55" fill="#f59060" transform="rotate(-20 1078 230)"/><ellipse cx="950" cy="222" rx="40" ry="12" fill="#f07a88"/><ellipse cx="925" cy="262" rx="28" ry="12" fill="#f5a050"/><ellipse cx="1015" cy="290" rx="32" ry="22" fill="#e05098"/><ellipse cx="840" cy="288" rx="40" ry="8" fill="#f5b040"/><ellipse cx="810" cy="262" rx="18" ry="14" fill="#f6b040"/></g><g clip-path="url(#topclip)"><path d="M718,312 L718,261 C720,256 724,251 730,245 L779.8,200.2 C786,195 796,191 804,190.8 C809,191 811,195 812.5,203 C814,210 816,212.6 819,212.6 C822.5,212.6 825.5,210 826.8,204 L828.5,172 C829,152 836,141 858,137 L922,135.5 C933,136 938,141 944,149 C950,156 958,158.5 966,158.5 C973,158.5 978,153 984,143 C994,127 1012,114 1040,112 C1085,112 1135,170 1153,240 L1153,308 Q1153,312 1149,312 Z" fill="none" stroke="#fff" stroke-width="5" stroke-dasharray="2 5 3 8 1.5 4 4 10 2 3 3 6"/></g></g><g fill="none" stroke="#1a1a1a" stroke-width="0.9" vector-effect="non-scaling-stroke" stroke-linejoin="round"><path vector-effect="non-scaling-stroke" d="M718.5,266.0 C720.5,265.7 725.9,266.4 730.5,264.0 C735.1,261.6 740.8,256.2 746.0,251.6 C751.2,246.9 756.4,240.8 761.6,236.1 C766.8,231.4 771.9,227.0 777.1,223.6 C782.3,220.2 787.4,218.0 792.6,215.9 C797.8,213.8 805.0,212.2 808.2,211.2 C811.4,210.2 811.4,210.2 812.0,210.0"/><path vector-effect="non-scaling-stroke" d="M718.0,285.0 C720.1,284.7 724.5,285.6 730.5,283.4 C736.5,281.2 746.0,275.2 753.8,271.8 C761.6,268.4 771.1,265.5 777.1,263.2 C783.1,260.9 787.4,258.9 789.5,258.0"/><path vector-effect="non-scaling-stroke" d="M789.5,257.8 C789.8,258.8 791.4,261.7 791.1,264.0 C790.9,266.3 788.5,269.2 788.0,271.8 C787.5,274.4 786.7,277.2 788.0,279.5 C789.3,281.8 793.8,283.6 795.7,285.7 C797.6,287.8 798.9,289.9 799.6,292.0 C800.3,294.1 799.9,297.0 800.0,298.0"/><path vector-effect="non-scaling-stroke" d="M792.6,246.9 C796.0,246.9 807.6,247.3 812.8,246.9 C818.0,246.5 820.0,245.1 823.7,244.6 C827.4,244.1 832.6,244.6 835.0,243.8 C837.4,243.0 837.5,240.6 838.0,240.0"/><path vector-effect="non-scaling-stroke" d="M812.8,246.9 C814.6,248.2 821.0,252.8 823.7,254.7 C826.5,256.6 826.8,256.4 829.3,258.0 C831.8,259.6 833.7,262.5 838.6,264.2 C843.5,265.9 851.5,266.9 858.8,268.0 C866.0,269.1 876.1,269.8 882.1,271.1 C888.1,272.4 891.4,273.9 894.5,275.8 C897.6,277.8 899.4,280.9 900.7,282.8 C902.0,284.7 902.0,286.3 902.3,287.0"/><path vector-effect="non-scaling-stroke" d="M724.3,312.0 C726.7,310.4 730.2,304.2 738.6,302.3 C747.0,300.4 762.5,301.6 774.4,300.9 C786.3,300.2 797.4,298.8 810.2,298.0 C823.0,297.2 839.0,296.7 851.0,296.0 C863.0,295.3 873.6,295.1 882.1,293.7 C890.6,292.3 895.8,288.9 902.3,287.5 C908.8,286.1 913.9,285.6 920.9,285.1 C927.9,284.6 937.7,284.7 944.2,284.3 C950.7,283.9 955.5,283.6 960.0,282.8 C964.5,282.0 964.0,279.5 971.0,279.5 C978.0,279.5 994.2,281.1 1002.0,282.6 C1009.8,284.2 1013.1,286.7 1017.5,288.8 C1021.9,290.9 1026.3,292.9 1028.4,295.0 C1030.5,297.1 1030.8,298.9 1030.0,301.2 C1029.2,303.5 1026.3,307.3 1023.7,309.0 C1021.1,310.7 1016.0,311.1 1014.4,311.5"/><path vector-effect="non-scaling-stroke" d="M774.4,300.9 C774.4,302.8 774.4,310.1 774.4,312.0"/><path vector-effect="non-scaling-stroke" d="M871.2,312.0 C872.0,310.8 872.8,306.0 875.9,304.5 C879.0,303.0 883.7,303.8 889.9,303.0 C896.1,302.2 905.4,300.8 913.2,299.9 C921.0,299.0 928.7,298.0 936.5,297.5 C944.3,297.0 954.2,296.8 960.0,296.8 C965.8,296.8 964.0,297.0 971.0,297.5 C978.0,298.0 994.8,298.6 1002.0,299.7 C1009.2,300.8 1011.0,302.8 1014.4,304.3 C1017.8,305.9 1020.4,307.7 1022.2,309.0 C1024.0,310.3 1024.5,311.5 1025.0,312.0"/><path vector-effect="non-scaling-stroke" d="M911.6,284.3 C911.3,279.1 909.7,259.5 910.0,253.3 C910.3,247.1 911.1,248.5 913.2,247.1 C915.3,245.7 921.0,245.2 922.5,244.8"/><path vector-effect="non-scaling-stroke" d="M839.8,234.1 C842.2,235.1 847.8,238.8 854.5,240.2 C861.2,241.6 871.7,242.0 880.3,242.4 C888.9,242.8 899.2,242.0 906.2,242.4 C913.2,242.8 916.2,244.3 922.5,244.8 C928.8,245.3 938.0,245.5 944.2,245.5 C950.5,245.5 955.5,246.1 960.0,245.0 C964.5,243.9 964.0,240.4 971.0,239.2 C978.0,238.0 994.8,237.2 1002.0,237.7 C1009.2,238.2 1011.3,240.0 1014.4,242.3 C1017.5,244.6 1020.1,248.0 1020.6,251.6 C1021.1,255.2 1020.6,260.9 1017.5,264.0 C1014.4,267.1 1006.6,268.9 1002.0,270.2 C997.4,271.5 991.9,270.8 989.6,271.8 C987.3,272.8 988.4,274.9 988.0,276.4 C987.6,277.8 987.2,279.8 987.0,280.5"/><path vector-effect="non-scaling-stroke" d="M827.8,212.6 C830.8,213.0 840.0,213.6 845.9,215.2 C851.8,216.8 855.9,219.9 863.1,222.1 C870.3,224.2 880.4,226.9 889.0,228.1 C897.6,229.2 907.6,228.7 914.8,229.0 C922.0,229.3 927.1,229.0 932.1,229.8 C937.1,230.6 940.4,231.8 945.0,234.0 C949.6,236.2 957.5,241.3 960.0,242.8"/><path vector-effect="non-scaling-stroke" d="M828.5,173.4 C830.8,173.9 838.1,176.1 842.4,176.4 C846.7,176.8 849.6,176.2 854.5,175.5 C859.4,174.8 864.5,173.0 871.7,172.4 C878.9,171.8 889.0,171.8 897.6,172.0 C906.2,172.2 916.2,172.4 923.4,173.8 C930.6,175.2 934.6,178.7 940.7,180.7 C946.8,182.7 955.0,184.9 960.0,185.9 C965.0,186.9 967.1,186.9 971.0,186.5 C974.9,186.1 980.0,184.7 983.4,183.4 C986.8,182.1 989.9,179.6 991.2,178.8"/><path vector-effect="non-scaling-stroke" d="M828.5,186.7 C832.8,186.6 847.3,186.3 854.5,185.9 C861.7,185.5 867.4,183.5 871.7,184.1 C876.0,184.7 876.8,186.9 880.3,189.3 C883.8,191.8 888.1,196.5 892.4,198.8 C896.7,201.1 902.2,200.9 906.2,203.1 C910.2,205.2 913.7,208.8 916.6,211.7 C919.5,214.6 920.8,217.1 923.4,220.3 C926.0,223.5 930.6,229.0 932.0,230.7"/><path vector-effect="non-scaling-stroke" d="M986.5,140.0 C986.0,142.6 983.6,150.3 983.4,155.5 C983.1,160.7 981.9,165.8 985.0,171.0 C988.1,176.2 997.1,182.4 1002.0,186.5 C1006.9,190.6 1012.1,192.7 1014.4,195.8 C1016.7,198.9 1018.1,202.5 1016.0,205.1 C1013.9,207.7 1008.5,209.5 1002.0,211.3 C995.5,213.1 984.4,214.2 977.2,216.0 C970.0,217.8 964.8,220.4 958.6,222.2 C952.4,224.0 945.9,227.1 940.0,226.8 C934.1,226.5 926.2,221.4 923.4,220.3"/><path vector-effect="non-scaling-stroke" d="M827.8,212.6 C828.7,214.7 831.0,221.4 833.0,225.0 C835.0,228.6 839.1,231.4 839.8,234.1 C840.5,236.8 838.8,239.6 837.2,241.0 C835.6,242.4 832.5,241.9 830.0,242.5 C827.5,243.1 823.3,244.2 822.0,244.6"/><path vector-effect="non-scaling-stroke" d="M727.4,284.2 C730.5,281.9 739.0,275.1 746.0,270.2 C753.0,265.3 762.8,259.1 769.3,254.7 C775.8,250.3 780.8,246.1 784.9,243.8 C789.0,241.5 792.3,240.8 794.2,240.7 C796.1,240.6 796.8,241.7 796.5,243.0 C796.2,244.3 794.0,246.3 792.6,248.5 C791.2,250.7 790.6,253.9 788.0,256.2 C785.4,258.5 782.8,260.2 777.1,262.5 C771.4,264.8 760.3,267.6 753.8,270.2 C747.3,272.8 742.7,275.7 738.3,278.0 C733.9,280.3 729.2,283.2 727.4,284.2"/><path vector-effect="non-scaling-stroke" d="M985.5,140.7 C988,149.5 999,150 1006,143.5 C1011.5,138 1012,128 1007.6,123.4"/></g><path d="M718,312 L718,261 C720,256 724,251 730,245 L779.8,200.2 C786,195 796,191 804,190.8 C809,191 811,195 812.5,203 C814,210 816,212.6 819,212.6 C822.5,212.6 825.5,210 826.8,204 L828.5,172 C829,152 836,141 858,137 L922,135.5 C933,136 938,141 944,149 C950,156 958,158.5 966,158.5 C973,158.5 978,153 984,143 C994,127 1012,114 1040,112 C1085,112 1135,170 1153,240 L1153,308 Q1153,312 1149,312 Z" fill="none" stroke="#1a1a1a" stroke-width="1.0" vector-effect="non-scaling-stroke"/></g>
<g transform="translate(-1.91,184.76) scale(0.5071)"><g clip-path="url(#clip2)"><rect x="700" y="100" width="470" height="220" fill="#e0509a"/><g filter="url(#blur2)"><path d="M700,320 L700,240 L805,185 L830,200 L830,320 Z" fill="#ef7a78"/><ellipse cx="815" cy="228" rx="22" ry="15" fill="#f8d028"/><ellipse cx="800" cy="238" rx="22" ry="10" fill="#f7b840"/><ellipse cx="745" cy="275" rx="40" ry="18" fill="#e0509a" transform="rotate(-25 745 275)"/><ellipse cx="760" cy="300" rx="40" ry="8" fill="#f07a7a"/><path d="M820,128 L990,128 L990,172 L820,172 Z" fill="#f7d020"/><ellipse cx="950" cy="165" rx="35" ry="12" fill="#f5b040"/><ellipse cx="900" cy="182" rx="80" ry="8" fill="#f59a50"/><ellipse cx="870" cy="205" rx="40" ry="10" fill="#e8609a"/><ellipse cx="935" cy="210" rx="45" ry="12" fill="#e8509a"/><ellipse cx="965" cy="228" rx="50" ry="9" fill="#6a3aa5" transform="rotate(5 965 228)"/><ellipse cx="880" cy="270" rx="48" ry="14" fill="#5a3aa5"/><ellipse cx="868" cy="271" rx="30" ry="11" fill="#1a2a80"/><ellipse cx="855" cy="268" rx="18" ry="8" fill="#2a3590"/><ellipse cx="930" cy="262" rx="30" ry="12" fill="#a040a0"/><ellipse cx="970" cy="262" rx="25" ry="12" fill="#e05090"/><ellipse cx="780" cy="305" rx="50" ry="8" fill="#f08080"/><ellipse cx="930" cy="305" rx="70" ry="8" fill="#e04a98"/><path d="M990,125 L1160,100 L1160,320 L990,320 Z" fill="#e0509a"/><ellipse cx="1068" cy="148" rx="38" ry="30" fill="#6a40a8"/><ellipse cx="1040" cy="200" rx="12" ry="20" fill="#8a40a8"/><ellipse cx="1097" cy="225" rx="30" ry="30" fill="#f05a9a"/><ellipse cx="1130" cy="285" rx="26" ry="38" fill="#7a40a8"/><ellipse cx="1140" cy="170" rx="15" ry="30" fill="#9a40a5"/><ellipse cx="998" cy="135" rx="16" ry="14" fill="#f08080"/><ellipse cx="1070" cy="290" rx="25" ry="15" fill="#c04aa0"/></g><g clip-path="url(#topclip)"><path d="M718,312 L718,261 C720,256 724,251 730,245 L779.8,200.2 C786,195 796,191 804,190.8 C809,191 811,195 812.5,203 C814,210 816,212.6 819,212.6 C822.5,212.6 825.5,210 826.8,204 L828.5,172 C829,152 836,141 858,137 L922,135.5 C933,136 938,141 944,149 C950,156 958,158.5 966,158.5 C973,158.5 978,153 984,143 C994,127 1012,114 1040,112 C1085,112 1135,170 1153,240 L1153,308 Q1153,312 1149,312 Z" fill="none" stroke="#fff" stroke-width="5" stroke-dasharray="2 5 3 8 1.5 4 4 10 2 3 3 6"/></g></g><g fill="none" stroke="#1a1a1a" stroke-width="0.9" vector-effect="non-scaling-stroke" stroke-linejoin="round"><path vector-effect="non-scaling-stroke" d="M718.5,266.0 C720.5,265.7 725.9,266.4 730.5,264.0 C735.1,261.6 740.8,256.2 746.0,251.6 C751.2,246.9 756.4,240.8 761.6,236.1 C766.8,231.4 771.9,227.0 777.1,223.6 C782.3,220.2 787.4,218.0 792.6,215.9 C797.8,213.8 805.0,212.2 808.2,211.2 C811.4,210.2 811.4,210.2 812.0,210.0"/><path vector-effect="non-scaling-stroke" d="M718.0,285.0 C720.1,284.7 724.5,285.6 730.5,283.4 C736.5,281.2 746.0,275.2 753.8,271.8 C761.6,268.4 771.1,265.5 777.1,263.2 C783.1,260.9 787.4,258.9 789.5,258.0"/><path vector-effect="non-scaling-stroke" d="M789.5,257.8 C789.8,258.8 791.4,261.7 791.1,264.0 C790.9,266.3 788.5,269.2 788.0,271.8 C787.5,274.4 786.7,277.2 788.0,279.5 C789.3,281.8 793.8,283.6 795.7,285.7 C797.6,287.8 798.9,289.9 799.6,292.0 C800.3,294.1 799.9,297.0 800.0,298.0"/><path vector-effect="non-scaling-stroke" d="M792.6,246.9 C796.0,246.9 807.6,247.3 812.8,246.9 C818.0,246.5 820.0,245.1 823.7,244.6 C827.4,244.1 832.6,244.6 835.0,243.8 C837.4,243.0 837.5,240.6 838.0,240.0"/><path vector-effect="non-scaling-stroke" d="M812.8,246.9 C814.6,248.2 821.0,252.8 823.7,254.7 C826.5,256.6 826.8,256.4 829.3,258.0 C831.8,259.6 833.7,262.5 838.6,264.2 C843.5,265.9 851.5,266.9 858.8,268.0 C866.0,269.1 876.1,269.8 882.1,271.1 C888.1,272.4 891.4,273.9 894.5,275.8 C897.6,277.8 899.4,280.9 900.7,282.8 C902.0,284.7 902.0,286.3 902.3,287.0"/><path vector-effect="non-scaling-stroke" d="M724.3,312.0 C726.7,310.4 730.2,304.2 738.6,302.3 C747.0,300.4 762.5,301.6 774.4,300.9 C786.3,300.2 797.4,298.8 810.2,298.0 C823.0,297.2 839.0,296.7 851.0,296.0 C863.0,295.3 873.6,295.1 882.1,293.7 C890.6,292.3 895.8,288.9 902.3,287.5 C908.8,286.1 913.9,285.6 920.9,285.1 C927.9,284.6 937.7,284.7 944.2,284.3 C950.7,283.9 955.5,283.6 960.0,282.8 C964.5,282.0 964.0,279.5 971.0,279.5 C978.0,279.5 994.2,281.1 1002.0,282.6 C1009.8,284.2 1013.1,286.7 1017.5,288.8 C1021.9,290.9 1026.3,292.9 1028.4,295.0 C1030.5,297.1 1030.8,298.9 1030.0,301.2 C1029.2,303.5 1026.3,307.3 1023.7,309.0 C1021.1,310.7 1016.0,311.1 1014.4,311.5"/><path vector-effect="non-scaling-stroke" d="M774.4,300.9 C774.4,302.8 774.4,310.1 774.4,312.0"/><path vector-effect="non-scaling-stroke" d="M871.2,312.0 C872.0,310.8 872.8,306.0 875.9,304.5 C879.0,303.0 883.7,303.8 889.9,303.0 C896.1,302.2 905.4,300.8 913.2,299.9 C921.0,299.0 928.7,298.0 936.5,297.5 C944.3,297.0 954.2,296.8 960.0,296.8 C965.8,296.8 964.0,297.0 971.0,297.5 C978.0,298.0 994.8,298.6 1002.0,299.7 C1009.2,300.8 1011.0,302.8 1014.4,304.3 C1017.8,305.9 1020.4,307.7 1022.2,309.0 C1024.0,310.3 1024.5,311.5 1025.0,312.0"/><path vector-effect="non-scaling-stroke" d="M911.6,284.3 C911.3,279.1 909.7,259.5 910.0,253.3 C910.3,247.1 911.1,248.5 913.2,247.1 C915.3,245.7 921.0,245.2 922.5,244.8"/><path vector-effect="non-scaling-stroke" d="M839.8,234.1 C842.2,235.1 847.8,238.8 854.5,240.2 C861.2,241.6 871.7,242.0 880.3,242.4 C888.9,242.8 899.2,242.0 906.2,242.4 C913.2,242.8 916.2,244.3 922.5,244.8 C928.8,245.3 938.0,245.5 944.2,245.5 C950.5,245.5 955.5,246.1 960.0,245.0 C964.5,243.9 964.0,240.4 971.0,239.2 C978.0,238.0 994.8,237.2 1002.0,237.7 C1009.2,238.2 1011.3,240.0 1014.4,242.3 C1017.5,244.6 1020.1,248.0 1020.6,251.6 C1021.1,255.2 1020.6,260.9 1017.5,264.0 C1014.4,267.1 1006.6,268.9 1002.0,270.2 C997.4,271.5 991.9,270.8 989.6,271.8 C987.3,272.8 988.4,274.9 988.0,276.4 C987.6,277.8 987.2,279.8 987.0,280.5"/><path vector-effect="non-scaling-stroke" d="M827.8,212.6 C830.8,213.0 840.0,213.6 845.9,215.2 C851.8,216.8 855.9,219.9 863.1,222.1 C870.3,224.2 880.4,226.9 889.0,228.1 C897.6,229.2 907.6,228.7 914.8,229.0 C922.0,229.3 927.1,229.0 932.1,229.8 C937.1,230.6 940.4,231.8 945.0,234.0 C949.6,236.2 957.5,241.3 960.0,242.8"/><path vector-effect="non-scaling-stroke" d="M828.5,173.4 C830.8,173.9 838.1,176.1 842.4,176.4 C846.7,176.8 849.6,176.2 854.5,175.5 C859.4,174.8 864.5,173.0 871.7,172.4 C878.9,171.8 889.0,171.8 897.6,172.0 C906.2,172.2 916.2,172.4 923.4,173.8 C930.6,175.2 934.6,178.7 940.7,180.7 C946.8,182.7 955.0,184.9 960.0,185.9 C965.0,186.9 967.1,186.9 971.0,186.5 C974.9,186.1 980.0,184.7 983.4,183.4 C986.8,182.1 989.9,179.6 991.2,178.8"/><path vector-effect="non-scaling-stroke" d="M828.5,186.7 C832.8,186.6 847.3,186.3 854.5,185.9 C861.7,185.5 867.4,183.5 871.7,184.1 C876.0,184.7 876.8,186.9 880.3,189.3 C883.8,191.8 888.1,196.5 892.4,198.8 C896.7,201.1 902.2,200.9 906.2,203.1 C910.2,205.2 913.7,208.8 916.6,211.7 C919.5,214.6 920.8,217.1 923.4,220.3 C926.0,223.5 930.6,229.0 932.0,230.7"/><path vector-effect="non-scaling-stroke" d="M986.5,140.0 C986.0,142.6 983.6,150.3 983.4,155.5 C983.1,160.7 981.9,165.8 985.0,171.0 C988.1,176.2 997.1,182.4 1002.0,186.5 C1006.9,190.6 1012.1,192.7 1014.4,195.8 C1016.7,198.9 1018.1,202.5 1016.0,205.1 C1013.9,207.7 1008.5,209.5 1002.0,211.3 C995.5,213.1 984.4,214.2 977.2,216.0 C970.0,217.8 964.8,220.4 958.6,222.2 C952.4,224.0 945.9,227.1 940.0,226.8 C934.1,226.5 926.2,221.4 923.4,220.3"/><path vector-effect="non-scaling-stroke" d="M827.8,212.6 C828.7,214.7 831.0,221.4 833.0,225.0 C835.0,228.6 839.1,231.4 839.8,234.1 C840.5,236.8 838.8,239.6 837.2,241.0 C835.6,242.4 832.5,241.9 830.0,242.5 C827.5,243.1 823.3,244.2 822.0,244.6"/><path vector-effect="non-scaling-stroke" d="M727.4,284.2 C730.5,281.9 739.0,275.1 746.0,270.2 C753.0,265.3 762.8,259.1 769.3,254.7 C775.8,250.3 780.8,246.1 784.9,243.8 C789.0,241.5 792.3,240.8 794.2,240.7 C796.1,240.6 796.8,241.7 796.5,243.0 C796.2,244.3 794.0,246.3 792.6,248.5 C791.2,250.7 790.6,253.9 788.0,256.2 C785.4,258.5 782.8,260.2 777.1,262.5 C771.4,264.8 760.3,267.6 753.8,270.2 C747.3,272.8 742.7,275.7 738.3,278.0 C733.9,280.3 729.2,283.2 727.4,284.2"/><path vector-effect="non-scaling-stroke" d="M985.5,140.7 C988,149.5 999,150 1006,143.5 C1011.5,138 1012,128 1007.6,123.4"/></g><path d="M718,312 L718,261 C720,256 724,251 730,245 L779.8,200.2 C786,195 796,191 804,190.8 C809,191 811,195 812.5,203 C814,210 816,212.6 819,212.6 C822.5,212.6 825.5,210 826.8,204 L828.5,172 C829,152 836,141 858,137 L922,135.5 C933,136 938,141 944,149 C950,156 958,158.5 966,158.5 C973,158.5 978,153 984,143 C994,127 1012,114 1040,112 C1085,112 1135,170 1153,240 L1153,308 Q1153,312 1149,312 Z" fill="none" stroke="#1a1a1a" stroke-width="1.0" vector-effect="non-scaling-stroke"/></g>
<g stroke="#231f20" stroke-width="1.1" fill="none"><line x1="349.4" y1="149.8" x2="379.4" y2="149.8" marker-start="url(#arr)" marker-end="url(#arr)"/><line x1="364.4" y1="134.8" x2="364.4" y2="164.8" marker-start="url(#arr)" marker-end="url(#arr)"/></g><text x="364.4" y="132.3" font-size="11.5" text-anchor="middle" fill="#2b2626">V</text><text x="364.4" y="175.58" font-size="11.5" text-anchor="middle" fill="#2b2626">D</text><text x="347.9" y="153.94" font-size="11.5" text-anchor="end" fill="#2b2626">A</text><text x="380.9" y="153.94" font-size="11.5" fill="#2b2626">P</text>
<text x="433.4" y="146.5" font-size="13.8" text-anchor="middle" fill="#fff">Pir</text>
<text x="456.2" y="143.7" font-size="13.8" text-anchor="middle" fill="#fff">Ent</text>
<text x="457.2" y="175.8" font-size="13.8" text-anchor="middle" fill="#2a2020">AuA1</text>
<text x="447.8" y="199.5" font-size="13.8" text-anchor="middle" fill="#2a2020">S1</text>
<text x="561.2" y="169.5" font-size="13.8" text-anchor="middle" fill="#2a2020">V1</text>
<text x="433" y="272.5" font-size="13.8" text-anchor="middle" fill="#2a2020">Pir</text>
<text x="455" y="267.6" font-size="13.8" text-anchor="middle" fill="#2a2020">Ent</text>
<text x="458.2" y="297.4" font-size="13.8" text-anchor="middle" fill="#fff">AuA1</text>
<text x="448" y="323.2" font-size="13.8" text-anchor="middle" fill="#fff">S1</text>
<text x="564.5" y="296.4" font-size="13.8" text-anchor="middle" fill="#fff">V1</text>
<rect x="609" y="208" width="13.6" height="66" fill="url(#plasma)"/>
<text x="627" y="213.3" font-size="12.6" fill="#2b2626">1.00</text>
<text x="627" y="229.70000000000002" font-size="12.6" fill="#2b2626">0.75</text>
<line x1="609" y1="225.4" x2="611.5" y2="225.4" stroke="#fff" stroke-width="1"/><line x1="620" y1="225.4" x2="622.6" y2="225.4" stroke="#fff" stroke-width="1"/>
<text x="627" y="246.10000000000002" font-size="12.6" fill="#2b2626">0.50</text>
<line x1="609" y1="241.8" x2="611.5" y2="241.8" stroke="#fff" stroke-width="1"/><line x1="620" y1="241.8" x2="622.6" y2="241.8" stroke="#fff" stroke-width="1"/>
<text x="627" y="262.5" font-size="12.6" fill="#2b2626">0.25</text>
<line x1="609" y1="258.2" x2="611.5" y2="258.2" stroke="#fff" stroke-width="1"/><line x1="620" y1="258.2" x2="622.6" y2="258.2" stroke="#fff" stroke-width="1"/>
<text x="627" y="278.90000000000003" font-size="12.6" fill="#2b2626">0.00</text>
<text x="604" y="241.3" font-size="13.2" text-anchor="middle" fill="#2b2626" transform="rotate(-90 604 241.3)">Normalized R</text>
<text x="950.5" y="95" font-size="19.3" text-anchor="middle" fill="#2b2626">Pr-AI Index</text>
<g transform="translate(0.00,0.00) scale(1.0000)"><g clip-path="url(#clip0)"><rect x="700" y="100" width="470" height="220" fill="#eef0a0"/><g filter="url(#blur0)"><path d="M700,320 L700,250 L805,185 L832,205 L832,320 Z" fill="#d5ea9c"/><ellipse cx="765" cy="232" rx="48" ry="11" fill="#86cca4" transform="rotate(-38 765 232)"/><ellipse cx="792" cy="218" rx="26" ry="9" fill="#4cb8a0" transform="rotate(-28 792 218)"/><ellipse cx="770" cy="250" rx="45" ry="9" fill="#9ad5a2" transform="rotate(-33 770 250)"/><ellipse cx="795" cy="240" rx="18" ry="8" fill="#52b8a6" transform="rotate(-25 795 240)"/><ellipse cx="812" cy="232" rx="20" ry="14" fill="#3d9fc0"/><ellipse cx="832" cy="226" rx="10" ry="12" fill="#3386bf"/><ellipse cx="822" cy="238" rx="14" ry="7" fill="#3a98be"/><ellipse cx="735" cy="298" rx="25" ry="14" fill="#f3e68c"/><ellipse cx="772" cy="283" rx="18" ry="12" fill="#f8c068" transform="rotate(-20 772 283)"/><ellipse cx="812" cy="274" rx="26" ry="17" fill="#f26a44"/><ellipse cx="795" cy="270" rx="12" ry="10" fill="#f7a058"/><ellipse cx="820" cy="306" rx="45" ry="7" fill="#74c6a6"/><ellipse cx="760" cy="306" rx="20" ry="6" fill="#cfe89c"/><path d="M820,128 L990,128 L990,170 L820,170 Z" fill="#3f74b8"/><ellipse cx="882" cy="158" rx="42" ry="10" fill="#5b4fa2"/><ellipse cx="870" cy="150" rx="25" ry="8" fill="#5656a6"/><ellipse cx="960" cy="160" rx="28" ry="12" fill="#3585bd"/><ellipse cx="845" cy="168" rx="18" ry="6" fill="#3a86be"/><ellipse cx="870" cy="180" rx="45" ry="6" fill="#44b2aa"/><ellipse cx="930" cy="180" rx="30" ry="6" fill="#7ccaa6"/><ellipse cx="955" cy="172" rx="25" ry="7" fill="#3fa6b6"/><ellipse cx="890" cy="194" rx="60" ry="6" fill="#b5e0a0"/><ellipse cx="880" cy="205" rx="40" ry="9" fill="#e4f19b"/><ellipse cx="898" cy="215" rx="30" ry="9" fill="#f26448" transform="rotate(12 898 215)"/><ellipse cx="930" cy="226" rx="22" ry="8" fill="#ec5844" transform="rotate(12 930 226)"/><ellipse cx="958" cy="235" rx="28" ry="8" fill="#e64a3f" transform="rotate(5 958 235)"/><ellipse cx="992" cy="230" rx="22" ry="9" fill="#ec5a40"/><ellipse cx="862" cy="238" rx="22" ry="5" fill="#a8dba0"/><ellipse cx="895" cy="240" rx="18" ry="4" fill="#e6f19a"/><ellipse cx="875" cy="270" rx="38" ry="20" fill="#c8134f"/><ellipse cx="898" cy="275" rx="16" ry="18" fill="#c0104e"/><ellipse cx="846" cy="262" rx="14" ry="10" fill="#d8304d"/><ellipse cx="835" cy="275" rx="12" ry="12" fill="#e8503f"/><ellipse cx="940" cy="264" rx="28" ry="17" fill="#f06a44"/><ellipse cx="995" cy="258" rx="20" ry="12" fill="#f8a85e"/><ellipse cx="920" cy="290" rx="22" ry="5" fill="#ee6345"/><ellipse cx="985" cy="290" rx="35" ry="8" fill="#f8a860"/><ellipse cx="945" cy="305" rx="60" ry="6" fill="#f8c672"/><ellipse cx="985" cy="200" rx="25" ry="20" fill="#f8d68a"/><ellipse cx="985" cy="168" rx="10" ry="12" fill="#d5eb9c"/><ellipse cx="998" cy="138" rx="10" ry="8" fill="#f8b866"/><path d="M1005,125 L1160,100 L1160,320 L1005,320 Z" fill="#d12a50"/><ellipse cx="1005" cy="150" rx="14" ry="18" fill="#f0844e"/><ellipse cx="1045" cy="255" rx="58" ry="44" fill="#f3a75e"/><ellipse cx="1030" cy="255" rx="32" ry="38" fill="#f8cb78"/><ellipse cx="1005" cy="230" rx="14" ry="55" fill="#f8d888"/><ellipse cx="1030" cy="170" rx="30" ry="10" fill="#ec6247" transform="rotate(35 1030 170)"/><ellipse cx="1090" cy="225" rx="14" ry="40" fill="#d83550" transform="rotate(-35 1090 225)"/><ellipse cx="1125" cy="205" rx="18" ry="60" fill="#c8184d" transform="rotate(-30 1125 205)"/><ellipse cx="1100" cy="305" rx="60" ry="8" fill="#c91d4f"/><ellipse cx="1135" cy="285" rx="14" ry="30" fill="#c51a4d"/></g><g clip-path="url(#topclip)"><path d="M718,312 L718,261 C720,256 724,251 730,245 L779.8,200.2 C786,195 796,191 804,190.8 C809,191 811,195 812.5,203 C814,210 816,212.6 819,212.6 C822.5,212.6 825.5,210 826.8,204 L828.5,172 C829,152 836,141 858,137 L922,135.5 C933,136 938,141 944,149 C950,156 958,158.5 966,158.5 C973,158.5 978,153 984,143 C994,127 1012,114 1040,112 C1085,112 1135,170 1153,240 L1153,308 Q1153,312 1149,312 Z" fill="none" stroke="#fff" stroke-width="5" stroke-dasharray="2 5 3 8 1.5 4 4 10 2 3 3 6"/></g></g><g fill="none" stroke="#1a1a1a" stroke-width="1.55" vector-effect="non-scaling-stroke" stroke-linejoin="round"><path vector-effect="non-scaling-stroke" d="M718.5,266.0 C720.5,265.7 725.9,266.4 730.5,264.0 C735.1,261.6 740.8,256.2 746.0,251.6 C751.2,246.9 756.4,240.8 761.6,236.1 C766.8,231.4 771.9,227.0 777.1,223.6 C782.3,220.2 787.4,218.0 792.6,215.9 C797.8,213.8 805.0,212.2 808.2,211.2 C811.4,210.2 811.4,210.2 812.0,210.0"/><path vector-effect="non-scaling-stroke" d="M718.0,285.0 C720.1,284.7 724.5,285.6 730.5,283.4 C736.5,281.2 746.0,275.2 753.8,271.8 C761.6,268.4 771.1,265.5 777.1,263.2 C783.1,260.9 787.4,258.9 789.5,258.0"/><path vector-effect="non-scaling-stroke" d="M789.5,257.8 C789.8,258.8 791.4,261.7 791.1,264.0 C790.9,266.3 788.5,269.2 788.0,271.8 C787.5,274.4 786.7,277.2 788.0,279.5 C789.3,281.8 793.8,283.6 795.7,285.7 C797.6,287.8 798.9,289.9 799.6,292.0 C800.3,294.1 799.9,297.0 800.0,298.0"/><path vector-effect="non-scaling-stroke" d="M792.6,246.9 C796.0,246.9 807.6,247.3 812.8,246.9 C818.0,246.5 820.0,245.1 823.7,244.6 C827.4,244.1 832.6,244.6 835.0,243.8 C837.4,243.0 837.5,240.6 838.0,240.0"/><path vector-effect="non-scaling-stroke" d="M812.8,246.9 C814.6,248.2 821.0,252.8 823.7,254.7 C826.5,256.6 826.8,256.4 829.3,258.0 C831.8,259.6 833.7,262.5 838.6,264.2 C843.5,265.9 851.5,266.9 858.8,268.0 C866.0,269.1 876.1,269.8 882.1,271.1 C888.1,272.4 891.4,273.9 894.5,275.8 C897.6,277.8 899.4,280.9 900.7,282.8 C902.0,284.7 902.0,286.3 902.3,287.0"/><path vector-effect="non-scaling-stroke" d="M724.3,312.0 C726.7,310.4 730.2,304.2 738.6,302.3 C747.0,300.4 762.5,301.6 774.4,300.9 C786.3,300.2 797.4,298.8 810.2,298.0 C823.0,297.2 839.0,296.7 851.0,296.0 C863.0,295.3 873.6,295.1 882.1,293.7 C890.6,292.3 895.8,288.9 902.3,287.5 C908.8,286.1 913.9,285.6 920.9,285.1 C927.9,284.6 937.7,284.7 944.2,284.3 C950.7,283.9 955.5,283.6 960.0,282.8 C964.5,282.0 964.0,279.5 971.0,279.5 C978.0,279.5 994.2,281.1 1002.0,282.6 C1009.8,284.2 1013.1,286.7 1017.5,288.8 C1021.9,290.9 1026.3,292.9 1028.4,295.0 C1030.5,297.1 1030.8,298.9 1030.0,301.2 C1029.2,303.5 1026.3,307.3 1023.7,309.0 C1021.1,310.7 1016.0,311.1 1014.4,311.5"/><path vector-effect="non-scaling-stroke" d="M774.4,300.9 C774.4,302.8 774.4,310.1 774.4,312.0"/><path vector-effect="non-scaling-stroke" d="M871.2,312.0 C872.0,310.8 872.8,306.0 875.9,304.5 C879.0,303.0 883.7,303.8 889.9,303.0 C896.1,302.2 905.4,300.8 913.2,299.9 C921.0,299.0 928.7,298.0 936.5,297.5 C944.3,297.0 954.2,296.8 960.0,296.8 C965.8,296.8 964.0,297.0 971.0,297.5 C978.0,298.0 994.8,298.6 1002.0,299.7 C1009.2,300.8 1011.0,302.8 1014.4,304.3 C1017.8,305.9 1020.4,307.7 1022.2,309.0 C1024.0,310.3 1024.5,311.5 1025.0,312.0"/><path vector-effect="non-scaling-stroke" d="M911.6,284.3 C911.3,279.1 909.7,259.5 910.0,253.3 C910.3,247.1 911.1,248.5 913.2,247.1 C915.3,245.7 921.0,245.2 922.5,244.8"/><path vector-effect="non-scaling-stroke" d="M839.8,234.1 C842.2,235.1 847.8,238.8 854.5,240.2 C861.2,241.6 871.7,242.0 880.3,242.4 C888.9,242.8 899.2,242.0 906.2,242.4 C913.2,242.8 916.2,244.3 922.5,244.8 C928.8,245.3 938.0,245.5 944.2,245.5 C950.5,245.5 955.5,246.1 960.0,245.0 C964.5,243.9 964.0,240.4 971.0,239.2 C978.0,238.0 994.8,237.2 1002.0,237.7 C1009.2,238.2 1011.3,240.0 1014.4,242.3 C1017.5,244.6 1020.1,248.0 1020.6,251.6 C1021.1,255.2 1020.6,260.9 1017.5,264.0 C1014.4,267.1 1006.6,268.9 1002.0,270.2 C997.4,271.5 991.9,270.8 989.6,271.8 C987.3,272.8 988.4,274.9 988.0,276.4 C987.6,277.8 987.2,279.8 987.0,280.5"/><path vector-effect="non-scaling-stroke" d="M827.8,212.6 C830.8,213.0 840.0,213.6 845.9,215.2 C851.8,216.8 855.9,219.9 863.1,222.1 C870.3,224.2 880.4,226.9 889.0,228.1 C897.6,229.2 907.6,228.7 914.8,229.0 C922.0,229.3 927.1,229.0 932.1,229.8 C937.1,230.6 940.4,231.8 945.0,234.0 C949.6,236.2 957.5,241.3 960.0,242.8"/><path vector-effect="non-scaling-stroke" d="M828.5,173.4 C830.8,173.9 838.1,176.1 842.4,176.4 C846.7,176.8 849.6,176.2 854.5,175.5 C859.4,174.8 864.5,173.0 871.7,172.4 C878.9,171.8 889.0,171.8 897.6,172.0 C906.2,172.2 916.2,172.4 923.4,173.8 C930.6,175.2 934.6,178.7 940.7,180.7 C946.8,182.7 955.0,184.9 960.0,185.9 C965.0,186.9 967.1,186.9 971.0,186.5 C974.9,186.1 980.0,184.7 983.4,183.4 C986.8,182.1 989.9,179.6 991.2,178.8"/><path vector-effect="non-scaling-stroke" d="M828.5,186.7 C832.8,186.6 847.3,186.3 854.5,185.9 C861.7,185.5 867.4,183.5 871.7,184.1 C876.0,184.7 876.8,186.9 880.3,189.3 C883.8,191.8 888.1,196.5 892.4,198.8 C896.7,201.1 902.2,200.9 906.2,203.1 C910.2,205.2 913.7,208.8 916.6,211.7 C919.5,214.6 920.8,217.1 923.4,220.3 C926.0,223.5 930.6,229.0 932.0,230.7"/><path vector-effect="non-scaling-stroke" d="M986.5,140.0 C986.0,142.6 983.6,150.3 983.4,155.5 C983.1,160.7 981.9,165.8 985.0,171.0 C988.1,176.2 997.1,182.4 1002.0,186.5 C1006.9,190.6 1012.1,192.7 1014.4,195.8 C1016.7,198.9 1018.1,202.5 1016.0,205.1 C1013.9,207.7 1008.5,209.5 1002.0,211.3 C995.5,213.1 984.4,214.2 977.2,216.0 C970.0,217.8 964.8,220.4 958.6,222.2 C952.4,224.0 945.9,227.1 940.0,226.8 C934.1,226.5 926.2,221.4 923.4,220.3"/><path vector-effect="non-scaling-stroke" d="M827.8,212.6 C828.7,214.7 831.0,221.4 833.0,225.0 C835.0,228.6 839.1,231.4 839.8,234.1 C840.5,236.8 838.8,239.6 837.2,241.0 C835.6,242.4 832.5,241.9 830.0,242.5 C827.5,243.1 823.3,244.2 822.0,244.6"/><path vector-effect="non-scaling-stroke" d="M727.4,284.2 C730.5,281.9 739.0,275.1 746.0,270.2 C753.0,265.3 762.8,259.1 769.3,254.7 C775.8,250.3 780.8,246.1 784.9,243.8 C789.0,241.5 792.3,240.8 794.2,240.7 C796.1,240.6 796.8,241.7 796.5,243.0 C796.2,244.3 794.0,246.3 792.6,248.5 C791.2,250.7 790.6,253.9 788.0,256.2 C785.4,258.5 782.8,260.2 777.1,262.5 C771.4,264.8 760.3,267.6 753.8,270.2 C747.3,272.8 742.7,275.7 738.3,278.0 C733.9,280.3 729.2,283.2 727.4,284.2"/><path vector-effect="non-scaling-stroke" d="M985.5,140.7 C988,149.5 999,150 1006,143.5 C1011.5,138 1012,128 1007.6,123.4"/></g><path d="M718,312 L718,261 C720,256 724,251 730,245 L779.8,200.2 C786,195 796,191 804,190.8 C809,191 811,195 812.5,203 C814,210 816,212.6 819,212.6 C822.5,212.6 825.5,210 826.8,204 L828.5,172 C829,152 836,141 858,137 L922,135.5 C933,136 938,141 944,149 C950,156 958,158.5 966,158.5 C973,158.5 978,153 984,143 C994,127 1012,114 1040,112 C1085,112 1135,170 1153,240 L1153,308 Q1153,312 1149,312 Z" fill="none" stroke="#1a1a1a" stroke-width="1.7" vector-effect="non-scaling-stroke"/></g>
<g stroke="#231f20" stroke-width="1.1" fill="none"><line x1="721.2" y1="140.7" x2="753.2" y2="140.7" marker-start="url(#arr)" marker-end="url(#arr)"/><line x1="737.2" y1="124.69999999999999" x2="737.2" y2="156.7" marker-start="url(#arr)" marker-end="url(#arr)"/></g><text x="737.2" y="121.69999999999999" font-size="15" text-anchor="middle" fill="#2b2626">V</text><text x="737.2" y="170.5" font-size="15" text-anchor="middle" fill="#2b2626">D</text><text x="719.7" y="146.1" font-size="15" text-anchor="end" fill="#2b2626">A</text><text x="754.7" y="146.1" font-size="15" fill="#2b2626">P</text>
<rect x="1172" y="203.6" width="13.8" height="73.4" fill="url(#specV)"/>
<text x="1190.5" y="209.9" font-size="12.6" fill="#2b2626">1.0</text>
<text x="1190.5" y="228.25" font-size="12.6" fill="#2b2626">0.5</text>
<line x1="1172" y1="223.95" x2="1174.5" y2="223.95" stroke="#fff" stroke-width="1"/><line x1="1183.3" y1="223.95" x2="1185.8" y2="223.95" stroke="#fff" stroke-width="1"/>
<text x="1190.5" y="246.60000000000002" font-size="12.6" fill="#2b2626">0.0</text>
<line x1="1172" y1="242.3" x2="1174.5" y2="242.3" stroke="#fff" stroke-width="1"/><line x1="1183.3" y1="242.3" x2="1185.8" y2="242.3" stroke="#fff" stroke-width="1"/>
<text x="1190.5" y="264.95" font-size="12.6" fill="#2b2626">−0.5</text>
<line x1="1172" y1="260.65" x2="1174.5" y2="260.65" stroke="#fff" stroke-width="1"/><line x1="1183.3" y1="260.65" x2="1185.8" y2="260.65" stroke="#fff" stroke-width="1"/>
<text x="1190.5" y="283.3" font-size="12.6" fill="#2b2626">−1.0</text>
<text x="1200.3" y="193.5" font-size="14.5" text-anchor="middle" fill="#2b2626">Pr-AI Index</text>
<text x="889.5" y="156.29999999999998" font-size="10.3" text-anchor="middle" fill="#fff">Ent</text>
<text x="894.2" y="166.2" font-size="10.3" text-anchor="middle" fill="#fff">A35</text>
<text x="894.2" y="174.1" font-size="10.3" text-anchor="middle" fill="#fff">A36</text>
<text x="849" y="170.2" font-size="10.3" text-anchor="middle" fill="#fff">Pir/Apri</text>
<text x="868.4" y="182.1" font-size="10.3" text-anchor="middle" fill="#fff">TE1</text>
<text x="959.6" y="166.2" font-size="10.3" text-anchor="middle" fill="#fff">TH</text>
<text x="808.5" y="227.29999999999998" font-size="10.3" text-anchor="middle" fill="#fff">OPAI</text>
<text x="839.5" y="226.5" font-size="10.3" text-anchor="middle" fill="#fff">PalM</text>
<text x="809" y="237.6" font-size="10.3" text-anchor="middle" fill="#fff">OPro</text>
<text x="827.6" y="240.29999999999998" font-size="10.3" text-anchor="middle" fill="#fff">Gu</text>
<text x="953.7" y="237.6" font-size="10.3" text-anchor="middle" fill="#fff">MST</text>
<text x="983.4" y="231.2" font-size="10.3" text-anchor="middle" fill="#fff">V5</text>
<text x="873.2" y="257.40000000000003" font-size="10.3" text-anchor="middle" fill="#fff">A1/A2</text>
<text x="876.4" y="266.1" font-size="10.3" text-anchor="middle" fill="#fff">A3b</text>
<text x="869.6" y="275.20000000000005" font-size="10.3" text-anchor="middle" fill="#fff">A3a</text>
<text x="866.6" y="285.90000000000003" font-size="10.3" text-anchor="middle" fill="#fff">A4ab</text>
<text x="822.9" y="281.20000000000005" font-size="10.3" text-anchor="middle" fill="#fff">A6DC</text>
<text x="943.8" y="277.20000000000005" font-size="10.3" text-anchor="middle" fill="#fff">PE</text>
<text x="895.4" y="297.8" font-size="10.3" text-anchor="middle" fill="#fff">A23c</text>
<text x="1091" y="208.6" font-size="10.3" text-anchor="middle" fill="#fff">V1</text>
<text x="1082" y="246.6" font-size="10.3" text-anchor="middle" fill="#fff">V2</text>
<text x="900.2" y="222" font-size="9" text-anchor="middle" fill="#fcd8cc">AuA1</text>
<text x="865.7" y="212.2" font-size="14.6" text-anchor="middle" fill="#231f20">AU</text>
<text x="870.4" y="241.89999999999998" font-size="14.6" text-anchor="middle" fill="#231f20">LS</text>
<text x="846.7" y="256.6" font-size="14.6" text-anchor="middle" fill="#231f20">SS</text>
<text x="811" y="270.9" font-size="14.6" text-anchor="middle" fill="#231f20">MOT</text>
<text x="969.5" y="265.7" font-size="14.6" text-anchor="middle" fill="#231f20">PPC</text>
<text x="939.8" y="171.79999999999998" font-size="14.6" text-anchor="middle" fill="#231f20">VT</text>
<text x="1058.4" y="218.39999999999998" font-size="14.6" text-anchor="middle" fill="#231f20">VC</text>
<text x="836.7" y="309.3" font-size="14.6" text-anchor="middle" fill="#231f20">ACC</text>
<text x="951.7" y="309.3" font-size="14.6" text-anchor="middle" fill="#231f20">PCC</text>
<text x="984.8" y="293.7" font-size="14.6" text-anchor="middle" fill="#231f20">RSC</text>
<text x="785.2" y="214.2" font-size="14.6" text-anchor="middle" fill="#231f20" transform="rotate(-28 785.2 209)">MPFC</text>
<text x="779.3" y="240.0" font-size="14.6" text-anchor="middle" fill="#231f20" transform="rotate(-25 779.3 234.8)">OFC</text>
<text x="759.5" y="267.7" font-size="14.6" text-anchor="middle" fill="#231f20" transform="rotate(-22 759.5 262.5)">VLPFC</text>
<text x="759.5" y="290.7" font-size="14.6" text-anchor="middle" fill="#231f20" transform="rotate(-20 759.5 285.5)">DLPFC</text>
<text x="988.9" y="129.1" font-size="14.6" text-anchor="middle" fill="#231f20" transform="rotate(-38 988.9 123.9)">PCC</text>
<text x="754.3" y="327.8" font-size="16.2" text-anchor="middle" fill="#231f20">MPFC</text>
<text x="808.5" y="376.8" font-size="19.5" text-anchor="middle" fill="#2b2626">Cell type compositions</text>
<text x="809" y="399.2" font-size="19.5" text-anchor="middle" fill="#2b2626">PC1 (40.55%)</text>
<g transform="translate(306.55,348.43) scale(0.5370)"><g clip-path="url(#clip3)"><rect x="700" y="100" width="470" height="220" fill="#f3c27a"/><g filter="url(#blur3)"><path d="M700,320 L700,240 L805,185 L830,200 L830,320 Z" fill="#c5e6a0"/><ellipse cx="780" cy="203" rx="32" ry="9" fill="#4fb8a8" transform="rotate(-35 780 203)"/><ellipse cx="760" cy="225" rx="35" ry="8" fill="#8ed0a4" transform="rotate(-35 760 225)"/><ellipse cx="818" cy="225" rx="14" ry="12" fill="#35a0b4"/><ellipse cx="750" cy="270" rx="38" ry="16" fill="#f49a55" transform="rotate(-20 750 270)"/><ellipse cx="730" cy="292" rx="18" ry="8" fill="#f6c070"/><ellipse cx="745" cy="306" rx="40" ry="6" fill="#f5b468"/><path d="M820,128 L990,128 L990,170 L820,170 Z" fill="#44aab2"/><ellipse cx="865" cy="145" rx="38" ry="12" fill="#4a58a8"/><ellipse cx="920" cy="145" rx="25" ry="10" fill="#2f7abc"/><ellipse cx="900" cy="181" rx="75" ry="7" fill="#b8e0a0"/><ellipse cx="880" cy="203" rx="50" ry="10" fill="#e2f09a"/><ellipse cx="900" cy="216" rx="30" ry="6" fill="#f5a060" transform="rotate(10 900 216)"/><ellipse cx="852" cy="228" rx="24" ry="9" fill="#3aa8b0"/><ellipse cx="840" cy="265" rx="50" ry="16" fill="#ee6a45"/><ellipse cx="890" cy="268" rx="16" ry="12" fill="#e04a45"/><ellipse cx="800" cy="282" rx="16" ry="10" fill="#f6b868"/><ellipse cx="965" cy="258" rx="45" ry="18" fill="#f8b068"/><ellipse cx="830" cy="303" rx="45" ry="7" fill="#f3c478"/><ellipse cx="960" cy="303" rx="55" ry="8" fill="#f6a862"/><path d="M1000,125 L1160,100 L1160,320 L1000,320 Z" fill="#e95e45"/><ellipse cx="1000" cy="180" rx="22" ry="50" fill="#f28a52"/><ellipse cx="1010" cy="150" rx="20" ry="25" fill="#f5a55a"/><ellipse cx="1115" cy="175" rx="30" ry="48" fill="#c8204f"/><ellipse cx="1118" cy="258" rx="34" ry="26" fill="#b01a4a"/><ellipse cx="1140" cy="220" rx="14" ry="65" fill="#cc2e4c"/><ellipse cx="1060" cy="292" rx="25" ry="12" fill="#f09058"/><ellipse cx="1040" cy="230" rx="25" ry="30" fill="#ee7650"/></g><g clip-path="url(#topclip)"><path d="M718,312 L718,261 C720,256 724,251 730,245 L779.8,200.2 C786,195 796,191 804,190.8 C809,191 811,195 812.5,203 C814,210 816,212.6 819,212.6 C822.5,212.6 825.5,210 826.8,204 L828.5,172 C829,152 836,141 858,137 L922,135.5 C933,136 938,141 944,149 C950,156 958,158.5 966,158.5 C973,158.5 978,153 984,143 C994,127 1012,114 1040,112 C1085,112 1135,170 1153,240 L1153,308 Q1153,312 1149,312 Z" fill="none" stroke="#fff" stroke-width="5" stroke-dasharray="2 5 3 8 1.5 4 4 10 2 3 3 6"/></g></g><g fill="none" stroke="#1a1a1a" stroke-width="1.25" vector-effect="non-scaling-stroke" stroke-linejoin="round"><path vector-effect="non-scaling-stroke" d="M718.5,266.0 C720.5,265.7 725.9,266.4 730.5,264.0 C735.1,261.6 740.8,256.2 746.0,251.6 C751.2,246.9 756.4,240.8 761.6,236.1 C766.8,231.4 771.9,227.0 777.1,223.6 C782.3,220.2 787.4,218.0 792.6,215.9 C797.8,213.8 805.0,212.2 808.2,211.2 C811.4,210.2 811.4,210.2 812.0,210.0"/><path vector-effect="non-scaling-stroke" d="M718.0,285.0 C720.1,284.7 724.5,285.6 730.5,283.4 C736.5,281.2 746.0,275.2 753.8,271.8 C761.6,268.4 771.1,265.5 777.1,263.2 C783.1,260.9 787.4,258.9 789.5,258.0"/><path vector-effect="non-scaling-stroke" d="M789.5,257.8 C789.8,258.8 791.4,261.7 791.1,264.0 C790.9,266.3 788.5,269.2 788.0,271.8 C787.5,274.4 786.7,277.2 788.0,279.5 C789.3,281.8 793.8,283.6 795.7,285.7 C797.6,287.8 798.9,289.9 799.6,292.0 C800.3,294.1 799.9,297.0 800.0,298.0"/><path vector-effect="non-scaling-stroke" d="M792.6,246.9 C796.0,246.9 807.6,247.3 812.8,246.9 C818.0,246.5 820.0,245.1 823.7,244.6 C827.4,244.1 832.6,244.6 835.0,243.8 C837.4,243.0 837.5,240.6 838.0,240.0"/><path vector-effect="non-scaling-stroke" d="M812.8,246.9 C814.6,248.2 821.0,252.8 823.7,254.7 C826.5,256.6 826.8,256.4 829.3,258.0 C831.8,259.6 833.7,262.5 838.6,264.2 C843.5,265.9 851.5,266.9 858.8,268.0 C866.0,269.1 876.1,269.8 882.1,271.1 C888.1,272.4 891.4,273.9 894.5,275.8 C897.6,277.8 899.4,280.9 900.7,282.8 C902.0,284.7 902.0,286.3 902.3,287.0"/><path vector-effect="non-scaling-stroke" d="M724.3,312.0 C726.7,310.4 730.2,304.2 738.6,302.3 C747.0,300.4 762.5,301.6 774.4,300.9 C786.3,300.2 797.4,298.8 810.2,298.0 C823.0,297.2 839.0,296.7 851.0,296.0 C863.0,295.3 873.6,295.1 882.1,293.7 C890.6,292.3 895.8,288.9 902.3,287.5 C908.8,286.1 913.9,285.6 920.9,285.1 C927.9,284.6 937.7,284.7 944.2,284.3 C950.7,283.9 955.5,283.6 960.0,282.8 C964.5,282.0 964.0,279.5 971.0,279.5 C978.0,279.5 994.2,281.1 1002.0,282.6 C1009.8,284.2 1013.1,286.7 1017.5,288.8 C1021.9,290.9 1026.3,292.9 1028.4,295.0 C1030.5,297.1 1030.8,298.9 1030.0,301.2 C1029.2,303.5 1026.3,307.3 1023.7,309.0 C1021.1,310.7 1016.0,311.1 1014.4,311.5"/><path vector-effect="non-scaling-stroke" d="M774.4,300.9 C774.4,302.8 774.4,310.1 774.4,312.0"/><path vector-effect="non-scaling-stroke" d="M871.2,312.0 C872.0,310.8 872.8,306.0 875.9,304.5 C879.0,303.0 883.7,303.8 889.9,303.0 C896.1,302.2 905.4,300.8 913.2,299.9 C921.0,299.0 928.7,298.0 936.5,297.5 C944.3,297.0 954.2,296.8 960.0,296.8 C965.8,296.8 964.0,297.0 971.0,297.5 C978.0,298.0 994.8,298.6 1002.0,299.7 C1009.2,300.8 1011.0,302.8 1014.4,304.3 C1017.8,305.9 1020.4,307.7 1022.2,309.0 C1024.0,310.3 1024.5,311.5 1025.0,312.0"/><path vector-effect="non-scaling-stroke" d="M911.6,284.3 C911.3,279.1 909.7,259.5 910.0,253.3 C910.3,247.1 911.1,248.5 913.2,247.1 C915.3,245.7 921.0,245.2 922.5,244.8"/><path vector-effect="non-scaling-stroke" d="M839.8,234.1 C842.2,235.1 847.8,238.8 854.5,240.2 C861.2,241.6 871.7,242.0 880.3,242.4 C888.9,242.8 899.2,242.0 906.2,242.4 C913.2,242.8 916.2,244.3 922.5,244.8 C928.8,245.3 938.0,245.5 944.2,245.5 C950.5,245.5 955.5,246.1 960.0,245.0 C964.5,243.9 964.0,240.4 971.0,239.2 C978.0,238.0 994.8,237.2 1002.0,237.7 C1009.2,238.2 1011.3,240.0 1014.4,242.3 C1017.5,244.6 1020.1,248.0 1020.6,251.6 C1021.1,255.2 1020.6,260.9 1017.5,264.0 C1014.4,267.1 1006.6,268.9 1002.0,270.2 C997.4,271.5 991.9,270.8 989.6,271.8 C987.3,272.8 988.4,274.9 988.0,276.4 C987.6,277.8 987.2,279.8 987.0,280.5"/><path vector-effect="non-scaling-stroke" d="M827.8,212.6 C830.8,213.0 840.0,213.6 845.9,215.2 C851.8,216.8 855.9,219.9 863.1,222.1 C870.3,224.2 880.4,226.9 889.0,228.1 C897.6,229.2 907.6,228.7 914.8,229.0 C922.0,229.3 927.1,229.0 932.1,229.8 C937.1,230.6 940.4,231.8 945.0,234.0 C949.6,236.2 957.5,241.3 960.0,242.8"/><path vector-effect="non-scaling-stroke" d="M828.5,173.4 C830.8,173.9 838.1,176.1 842.4,176.4 C846.7,176.8 849.6,176.2 854.5,175.5 C859.4,174.8 864.5,173.0 871.7,172.4 C878.9,171.8 889.0,171.8 897.6,172.0 C906.2,172.2 916.2,172.4 923.4,173.8 C930.6,175.2 934.6,178.7 940.7,180.7 C946.8,182.7 955.0,184.9 960.0,185.9 C965.0,186.9 967.1,186.9 971.0,186.5 C974.9,186.1 980.0,184.7 983.4,183.4 C986.8,182.1 989.9,179.6 991.2,178.8"/><path vector-effect="non-scaling-stroke" d="M828.5,186.7 C832.8,186.6 847.3,186.3 854.5,185.9 C861.7,185.5 867.4,183.5 871.7,184.1 C876.0,184.7 876.8,186.9 880.3,189.3 C883.8,191.8 888.1,196.5 892.4,198.8 C896.7,201.1 902.2,200.9 906.2,203.1 C910.2,205.2 913.7,208.8 916.6,211.7 C919.5,214.6 920.8,217.1 923.4,220.3 C926.0,223.5 930.6,229.0 932.0,230.7"/><path vector-effect="non-scaling-stroke" d="M986.5,140.0 C986.0,142.6 983.6,150.3 983.4,155.5 C983.1,160.7 981.9,165.8 985.0,171.0 C988.1,176.2 997.1,182.4 1002.0,186.5 C1006.9,190.6 1012.1,192.7 1014.4,195.8 C1016.7,198.9 1018.1,202.5 1016.0,205.1 C1013.9,207.7 1008.5,209.5 1002.0,211.3 C995.5,213.1 984.4,214.2 977.2,216.0 C970.0,217.8 964.8,220.4 958.6,222.2 C952.4,224.0 945.9,227.1 940.0,226.8 C934.1,226.5 926.2,221.4 923.4,220.3"/><path vector-effect="non-scaling-stroke" d="M827.8,212.6 C828.7,214.7 831.0,221.4 833.0,225.0 C835.0,228.6 839.1,231.4 839.8,234.1 C840.5,236.8 838.8,239.6 837.2,241.0 C835.6,242.4 832.5,241.9 830.0,242.5 C827.5,243.1 823.3,244.2 822.0,244.6"/><path vector-effect="non-scaling-stroke" d="M727.4,284.2 C730.5,281.9 739.0,275.1 746.0,270.2 C753.0,265.3 762.8,259.1 769.3,254.7 C775.8,250.3 780.8,246.1 784.9,243.8 C789.0,241.5 792.3,240.8 794.2,240.7 C796.1,240.6 796.8,241.7 796.5,243.0 C796.2,244.3 794.0,246.3 792.6,248.5 C791.2,250.7 790.6,253.9 788.0,256.2 C785.4,258.5 782.8,260.2 777.1,262.5 C771.4,264.8 760.3,267.6 753.8,270.2 C747.3,272.8 742.7,275.7 738.3,278.0 C733.9,280.3 729.2,283.2 727.4,284.2"/><path vector-effect="non-scaling-stroke" d="M985.5,140.7 C988,149.5 999,150 1006,143.5 C1011.5,138 1012,128 1007.6,123.4"/></g><path d="M718,312 L718,261 C720,256 724,251 730,245 L779.8,200.2 C786,195 796,191 804,190.8 C809,191 811,195 812.5,203 C814,210 816,212.6 819,212.6 C822.5,212.6 825.5,210 826.8,204 L828.5,172 C829,152 836,141 858,137 L922,135.5 C933,136 938,141 944,149 C950,156 958,158.5 966,158.5 C973,158.5 978,153 984,143 C994,127 1012,114 1040,112 C1085,112 1135,170 1153,240 L1153,308 Q1153,312 1149,312 Z" fill="none" stroke="#1a1a1a" stroke-width="1.3" vector-effect="non-scaling-stroke"/></g>
<g stroke="#231f20" stroke-width="1.1" fill="none"><line x1="689.5" y1="430.5" x2="721.5" y2="430.5" marker-start="url(#arr)" marker-end="url(#arr)"/><line x1="705.5" y1="414.5" x2="705.5" y2="446.5" marker-start="url(#arr)" marker-end="url(#arr)"/></g><text x="705.5" y="412.0" font-size="13.5" text-anchor="middle" fill="#2b2626">V</text><text x="705.5" y="458.72" font-size="13.5" text-anchor="middle" fill="#2b2626">D</text><text x="688.0" y="435.36" font-size="13.5" text-anchor="end" fill="#2b2626">A</text><text x="723.0" y="435.36" font-size="13.5" fill="#2b2626">P</text>
<rect x="773.9" y="525.5" width="76.6" height="13.5" fill="url(#specH)"/>
<text x="715" y="537.3" font-size="14.2" fill="#2b2626">Cell PC1</text>
<text x="773.6" y="543.5" font-size="12.2" fill="#2b2626" transform="rotate(90 773.6 543.5)" dy="0.35em">−30</text>
<text x="791.5" y="543.5" font-size="12.2" fill="#2b2626" transform="rotate(90 791.5 543.5)" dy="0.35em">−20</text>
<text x="810" y="543.5" font-size="12.2" fill="#2b2626" transform="rotate(90 810 543.5)" dy="0.35em">−10</text>
<text x="828.5" y="543.5" font-size="12.2" fill="#2b2626" transform="rotate(90 828.5 543.5)" dy="0.35em">0</text>
<text x="847" y="543.5" font-size="12.2" fill="#2b2626" transform="rotate(90 847 543.5)" dy="0.35em">10</text>
<line x1="792" y1="525.5" x2="792" y2="528" stroke="#fff" stroke-width="1"/><line x1="792" y1="536.5" x2="792" y2="539" stroke="#fff" stroke-width="1"/>
<line x1="810.5" y1="525.5" x2="810.5" y2="528" stroke="#fff" stroke-width="1"/><line x1="810.5" y1="536.5" x2="810.5" y2="539" stroke="#fff" stroke-width="1"/>
<line x1="828.9" y1="525.5" x2="828.9" y2="528" stroke="#fff" stroke-width="1"/><line x1="828.9" y1="536.5" x2="828.9" y2="539" stroke="#fff" stroke-width="1"/>
<line x1="847.3" y1="525.5" x2="847.3" y2="528" stroke="#fff" stroke-width="1"/><line x1="847.3" y1="536.5" x2="847.3" y2="539" stroke="#fff" stroke-width="1"/>
<g stroke="#231f20" stroke-width="1.4" fill="none"><line x1="403.3" y1="534.5" x2="403.3" y2="377" marker-end="url(#arr)"/><line x1="403.3" y1="534.5" x2="586" y2="534.5" marker-end="url(#arr)"/></g>
<line x1="411.2" y1="534.5" x2="411.2" y2="537.5" stroke="#231f20" stroke-width="1.2"/>
<text x="411.2" y="551.3" font-size="12.6" text-anchor="middle" fill="#333">0.00</text>
<line x1="400.3" y1="527.6" x2="403.3" y2="527.6" stroke="#231f20" stroke-width="1.2"/>
<text x="398.4" y="532.0" font-size="12.6" text-anchor="end" fill="#333">0.00</text>
<line x1="452.7" y1="534.5" x2="452.7" y2="537.5" stroke="#231f20" stroke-width="1.2"/>
<text x="452.7" y="551.3" font-size="12.6" text-anchor="middle" fill="#333">0.25</text>
<line x1="400.3" y1="492.0" x2="403.3" y2="492.0" stroke="#231f20" stroke-width="1.2"/>
<text x="398.4" y="496.4" font-size="12.6" text-anchor="end" fill="#333">0.25</text>
<line x1="494.2" y1="534.5" x2="494.2" y2="537.5" stroke="#231f20" stroke-width="1.2"/>
<text x="494.2" y="551.3" font-size="12.6" text-anchor="middle" fill="#333">0.50</text>
<line x1="400.3" y1="456.40000000000003" x2="403.3" y2="456.40000000000003" stroke="#231f20" stroke-width="1.2"/>
<text x="398.4" y="460.8" font-size="12.6" text-anchor="end" fill="#333">0.50</text>
<line x1="535.7" y1="534.5" x2="535.7" y2="537.5" stroke="#231f20" stroke-width="1.2"/>
<text x="535.7" y="551.3" font-size="12.6" text-anchor="middle" fill="#333">0.75</text>
<line x1="400.3" y1="420.8" x2="403.3" y2="420.8" stroke="#231f20" stroke-width="1.2"/>
<text x="398.4" y="425.2" font-size="12.6" text-anchor="end" fill="#333">0.75</text>
<line x1="577.2" y1="534.5" x2="577.2" y2="537.5" stroke="#231f20" stroke-width="1.2"/>
<text x="577.2" y="551.3" font-size="12.6" text-anchor="middle" fill="#333">1.00</text>
<line x1="400.3" y1="385.20000000000005" x2="403.3" y2="385.20000000000005" stroke="#231f20" stroke-width="1.2"/>
<text x="398.4" y="389.6" font-size="12.6" text-anchor="end" fill="#333">1.00</text>
<text x="482.8" y="566.4" font-size="14.8" text-anchor="middle" fill="#231f20">Normalized R with Pr</text>
<text x="362.8" y="467.5" font-size="15" text-anchor="middle" fill="#231f20" transform="rotate(-90 362.8 467.5)">Normalized R with AI</text>
<text x="495" y="392.9" font-size="14.6" fill="#231f20">R = −0.84</text>
<text x="494.5" y="409.6" font-size="14.6" fill="#231f20"><tspan font-style="italic">p</tspan> value = 0</text>
<rect x="599" y="425" width="13.5" height="66.4" fill="url(#specV)"/>
<text x="616.5" y="430.5" font-size="12.6" fill="#2b2626">1.0</text>
<text x="616.5" y="447.6" font-size="12.6" fill="#2b2626">0.5</text>
<text x="616.5" y="464.7" font-size="12.6" fill="#2b2626">0.0</text>
<text x="616.5" y="481.8" font-size="12.6" fill="#2b2626">−0.5</text>
<text x="616.5" y="498.90000000000003" font-size="12.6" fill="#2b2626">−1.0</text>
<text x="626.3" y="412.8" font-size="14.3" text-anchor="middle" fill="#2b2626">Pr-AI Index</text>
<g filter="url(#mesh)">
<path d="M411.9,398.5 C411.9,397.0 412.3,393.6 413.0,392.0 C413.7,390.4 414.5,390.0 416.0,389.0 C417.5,388.0 420.0,386.8 422.2,386.0 C424.4,385.2 426.8,384.2 429.1,384.3 C431.4,384.4 433.7,385.3 436.0,386.5 C438.3,387.7 440.9,389.4 442.9,391.5 C444.9,393.6 446.6,396.9 448.0,399.0 C449.4,401.1 450.2,404.4 451.5,404.0 C452.8,403.6 454.6,398.5 456.0,396.5 C457.4,394.5 458.9,392.1 460.2,392.2 C461.5,392.3 462.5,395.4 463.6,397.4 C464.7,399.4 465.3,401.7 467.0,404.0 C468.7,406.3 470.8,408.6 474.0,411.2 C477.2,413.8 482.0,416.9 486.0,419.8 C490.0,422.7 494.9,426.4 498.1,428.4 C501.3,430.3 501.7,429.7 505.0,431.5 C508.3,433.3 512.6,436.5 517.9,439.0 C523.2,441.5 530.6,444.2 536.9,446.6 C543.2,449.0 550.5,451.1 555.9,453.2 C561.3,455.2 565.6,456.8 569.1,458.9 C572.6,460.9 575.8,462.5 576.7,465.5 C577.7,468.5 576.1,472.5 574.8,476.9 C573.5,481.3 569.7,487.4 569.1,492.1 C568.5,496.8 570.8,500.6 571.0,505.3 C571.2,510.0 570.7,516.9 570.1,520.5 C569.5,524.1 568.9,526.9 567.2,527.2 C565.5,527.5 562.5,524.5 559.7,522.4 C556.9,520.3 553.1,517.3 550.2,514.8 C547.4,512.3 544.8,508.8 542.6,507.2 C540.4,505.6 539.4,506.6 536.9,505.3 C534.4,504.1 531.2,501.6 527.4,499.7 C523.6,497.8 518.8,494.9 514.1,494.0 C509.4,493.1 503.1,494.3 499.0,494.0 C494.9,493.7 491.6,494.3 489.5,492.1 C487.4,489.9 487.2,483.9 486.6,480.7 C486.0,477.5 486.5,476.0 485.7,473.1 C484.9,470.2 483.0,467.3 481.9,463.6 C480.8,459.9 481.0,454.8 479.1,450.9 C477.2,447.0 474.2,444.5 470.5,440.5 C466.8,436.5 460.4,430.4 456.7,426.7 C453.0,423.0 450.7,421.4 448.1,418.1 C445.5,414.8 442.9,410.5 441.0,407.0 C439.1,403.5 438.7,399.5 437.0,397.0 C435.3,394.5 433.3,392.7 431.0,392.0 C428.7,391.3 425.3,391.8 423.0,393.0 C420.7,394.2 418.7,397.7 417.0,399.0 C415.3,400.3 413.9,401.1 413.0,401.0 C412.1,400.9 411.9,400.0 411.9,398.5Z" fill="url(#cgrad)"/>
<path d="M448.1,418.1 C446.7,418.7 441.8,419.9 439.5,421.6 C437.2,423.3 435.7,425.2 434.3,428.4 C432.9,431.5 431.6,436.8 430.9,440.5 C430.2,444.2 430.1,449.2 430.0,450.9" fill="none" stroke="#6cc4a4" stroke-width="2.2"/>
</g>
<g filter="url(#mesh2)">
<path d="M562.0,457.0 C563.5,454.2 569.5,459.5 572.0,461.0 C574.5,462.5 576.5,463.2 577.0,466.0 C577.5,468.8 576.3,473.7 575.0,478.0 C573.7,482.3 569.7,487.3 569.0,492.0 C568.3,496.7 570.8,501.3 571.0,506.0 C571.2,510.7 570.7,516.5 570.0,520.0 C569.3,523.5 568.3,527.8 567.0,527.0 C565.7,526.2 563.2,520.3 562.0,515.0 C560.8,509.7 559.8,501.2 560.0,495.0 C560.2,488.8 562.7,484.3 563.0,478.0 C563.3,471.7 560.5,459.8 562.0,457.0Z" fill="#c41a4d"/>
<ellipse cx="538" cy="492" rx="9" ry="12" fill="#ee6a45"/>
<path d="M413.0,398.0 C412.7,397.0 415.5,392.2 418.0,390.0 C420.5,387.8 424.8,385.5 428.0,385.0 C431.2,384.5 434.3,385.5 437.0,387.0 C439.7,388.5 442.2,391.8 444.0,394.0 C445.8,396.2 448.0,398.3 448.0,400.0 C448.0,401.7 445.8,404.7 444.0,404.0 C442.2,403.3 439.5,398.0 437.0,396.0 C434.5,394.0 431.8,392.0 429.0,392.0 C426.2,392.0 422.7,395.0 420.0,396.0 C417.3,397.0 413.3,399.0 413.0,398.0Z" fill="#5a55a5"/>
</g>
<g filter="url(#mesh)">
<path d="M1019.0,511.0 C1018.2,509.0 1019.8,507.5 1021.0,507.5 C1022.2,507.5 1023.8,509.9 1026.0,511.0 C1028.2,512.1 1031.3,513.8 1034.0,514.0 C1036.7,514.2 1039.8,513.3 1042.0,512.0 C1044.2,510.7 1046.2,506.5 1047.5,506.0 C1048.8,505.5 1048.5,509.8 1050.0,509.0 C1051.5,508.2 1055.4,504.9 1056.5,501.5 C1057.6,498.1 1055.6,492.0 1056.5,488.6 C1057.4,485.2 1058.2,483.9 1061.7,480.9 C1065.2,477.9 1072.0,474.4 1077.2,470.5 C1082.4,466.6 1088.5,462.3 1092.8,457.6 C1097.1,452.9 1100.1,446.4 1103.1,442.1 C1106.1,437.8 1108.8,436.4 1110.9,431.7 C1113.1,426.9 1114.3,418.3 1116.0,413.6 C1117.7,408.9 1118.6,406.3 1121.2,403.3 C1123.8,400.3 1128.0,397.7 1131.5,395.5 C1135.0,393.3 1139.7,391.8 1141.9,390.3 C1144.1,388.8 1143.7,386.4 1144.5,386.5 C1145.3,386.6 1145.9,388.6 1147.0,391.0 C1148.1,393.4 1150.2,395.6 1150.9,400.7 C1151.6,405.8 1152.0,415.4 1150.9,421.4 C1149.8,427.4 1147.3,432.6 1144.5,436.9 C1141.7,441.2 1137.1,442.9 1134.1,447.2 C1131.1,451.5 1129.0,458.5 1126.4,462.8 C1123.8,467.1 1122.9,469.7 1118.6,473.1 C1114.3,476.5 1106.1,480.8 1100.5,483.4 C1094.9,486.0 1090.6,485.6 1085.0,488.6 C1079.4,491.6 1071.7,497.6 1066.9,501.5 C1062.2,505.4 1060.0,508.9 1056.5,511.9 C1053.0,514.9 1049.6,517.7 1046.2,519.6 C1042.8,521.5 1039.4,523.5 1035.9,523.5 C1032.5,523.5 1028.3,521.7 1025.5,519.6 C1022.7,517.5 1019.8,513.0 1019.0,511.0Z" fill="url(#fgrad)"/>
<path d="M1051.5,476.0 C1053.1,477.6 1057.8,482.3 1061.0,485.5 C1064.2,488.7 1069.3,493.4 1071.0,495.0" fill="none" stroke="#7ccaa8" stroke-width="2"/>
</g>
<g stroke="#231f20" stroke-width="1.4" fill="none"><line x1="1009.9" y1="531.6" x2="1009.9" y2="378" marker-end="url(#arr)"/><line x1="1009.9" y1="531.6" x2="1163" y2="531.6" marker-end="url(#arr)"/></g>
<line x1="1019.9" y1="531.6" x2="1019.9" y2="534.6" stroke="#231f20" stroke-width="1.2"/>
<text x="1019.9" y="546.3" font-size="12.6" text-anchor="middle" fill="#333">−30</text>
<line x1="1052.0" y1="531.6" x2="1052.0" y2="534.6" stroke="#231f20" stroke-width="1.2"/>
<text x="1052.0" y="546.3" font-size="12.6" text-anchor="middle" fill="#333">−20</text>
<line x1="1084.1" y1="531.6" x2="1084.1" y2="534.6" stroke="#231f20" stroke-width="1.2"/>
<text x="1084.1" y="546.3" font-size="12.6" text-anchor="middle" fill="#333">−10</text>
<line x1="1116.2" y1="531.6" x2="1116.2" y2="534.6" stroke="#231f20" stroke-width="1.2"/>
<text x="1116.2" y="546.3" font-size="12.6" text-anchor="middle" fill="#333">0</text>
<line x1="1148.3" y1="531.6" x2="1148.3" y2="534.6" stroke="#231f20" stroke-width="1.2"/>
<text x="1148.3" y="546.3" font-size="12.6" text-anchor="middle" fill="#333">10</text>
<line x1="1006.9" y1="386.9" x2="1009.9" y2="386.9" stroke="#231f20" stroke-width="1.2"/>
<text x="1003" y="391.29999999999995" font-size="12.6" text-anchor="end" fill="#333">1.0</text>
<line x1="1006.9" y1="421.4" x2="1009.9" y2="421.4" stroke="#231f20" stroke-width="1.2"/>
<text x="1003" y="425.79999999999995" font-size="12.6" text-anchor="end" fill="#333">0.5</text>
<line x1="1006.9" y1="455.9" x2="1009.9" y2="455.9" stroke="#231f20" stroke-width="1.2"/>
<text x="1003" y="460.29999999999995" font-size="12.6" text-anchor="end" fill="#333">0.0</text>
<line x1="1006.9" y1="490.4" x2="1009.9" y2="490.4" stroke="#231f20" stroke-width="1.2"/>
<text x="1003" y="494.79999999999995" font-size="12.6" text-anchor="end" fill="#333">−0.5</text>
<line x1="1006.9" y1="524.9" x2="1009.9" y2="524.9" stroke="#231f20" stroke-width="1.2"/>
<text x="1003" y="529.3" font-size="12.6" text-anchor="end" fill="#333">−1.0</text>
<text x="1087.3" y="566" font-size="14.6" text-anchor="middle" fill="#231f20">Cell PC1</text>
<text x="975" y="456" font-size="14.6" text-anchor="middle" fill="#231f20" transform="rotate(-90 975 456)">Pr-AI Index</text>
<text x="1024" y="391.5" font-size="14.6" fill="#231f20">R = 0.90</text>
<text x="1023.6" y="408.7" font-size="14.6" fill="#231f20"><tspan font-style="italic">p</tspan> value = 0</text>
<rect x="1172.5" y="425" width="13.1" height="68.8" fill="url(#specV)"/>
<text x="1189.7" y="430.6" font-size="12.6" fill="#2b2626">1.0</text>
<text x="1189.7" y="447.65000000000003" font-size="12.6" fill="#2b2626">0.5</text>
<text x="1189.7" y="464.70000000000005" font-size="12.6" fill="#2b2626">0.0</text>
<text x="1189.7" y="481.75000000000006" font-size="12.6" fill="#2b2626">−0.5</text>
<text x="1189.7" y="498.8" font-size="12.6" fill="#2b2626">−1.0</text>
<text x="1200.2" y="413.2" font-size="14.3" text-anchor="middle" fill="#2b2626">Pr-AI Index</text>
</svg></body></html>
